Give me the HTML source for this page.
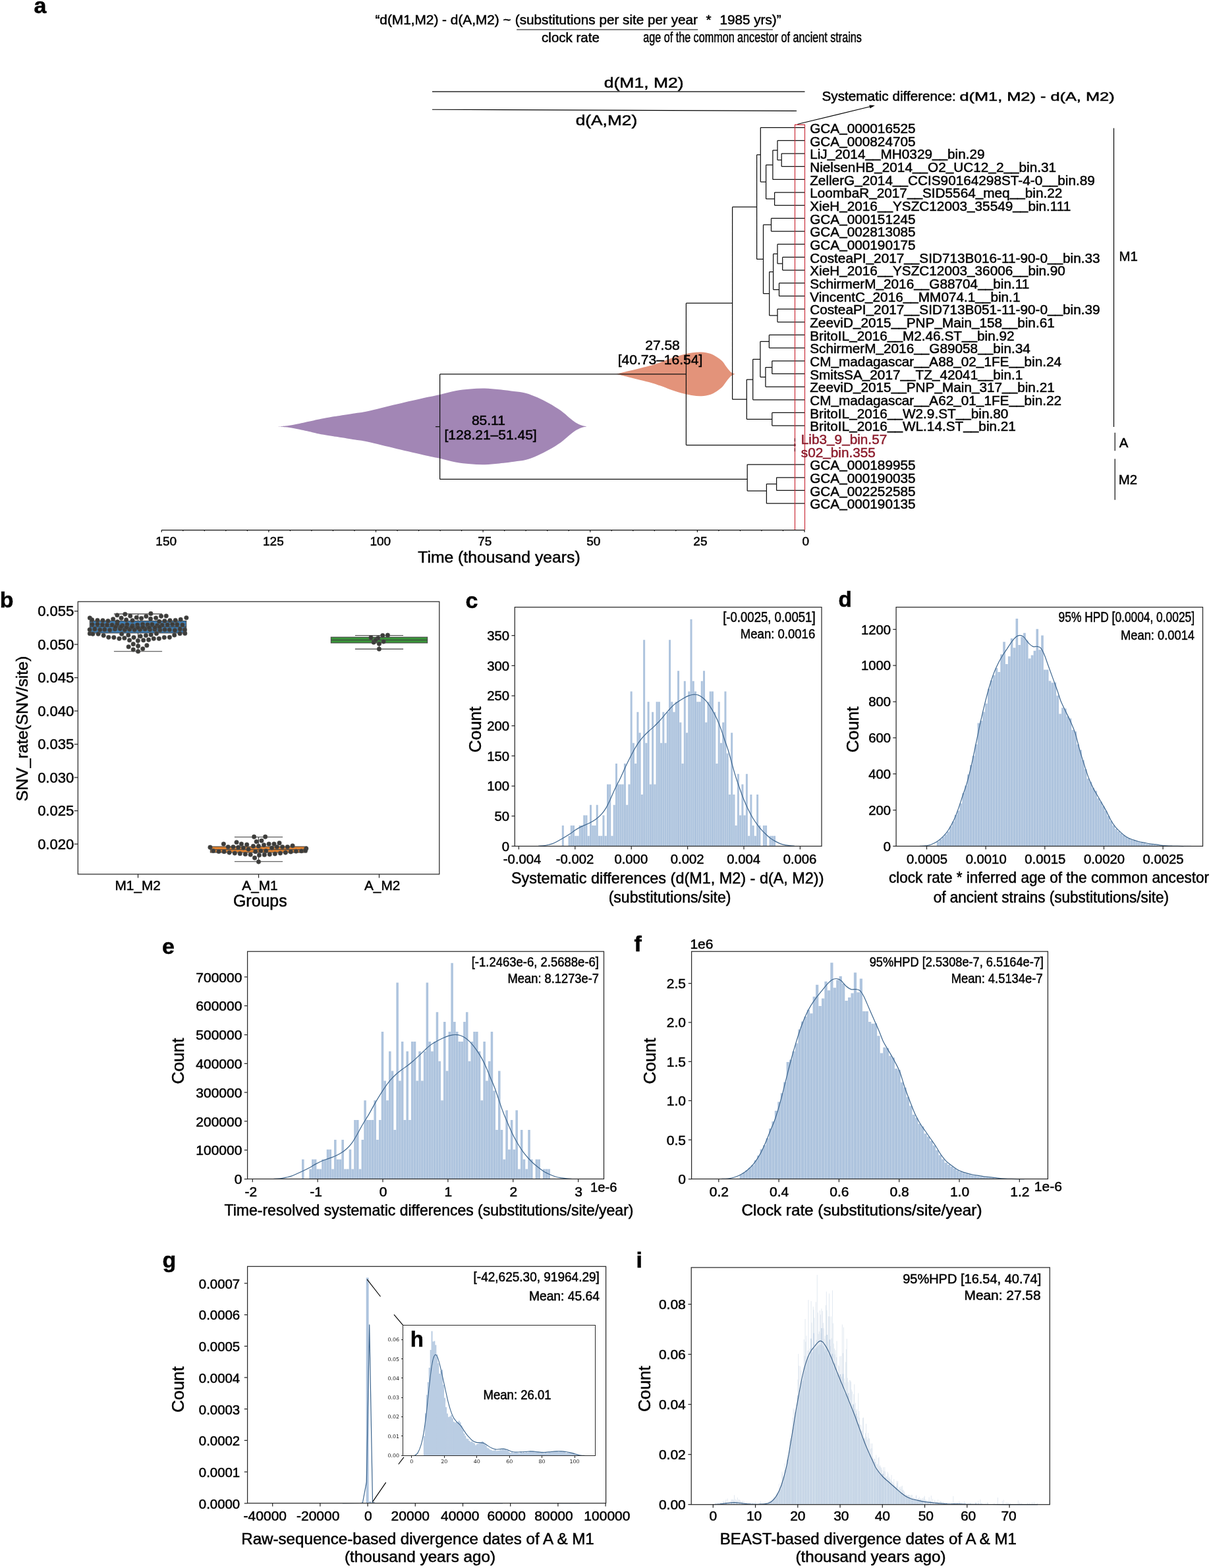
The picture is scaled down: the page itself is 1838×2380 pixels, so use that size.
<!DOCTYPE html>
<html lang="en"><head><meta charset="utf-8"><title>Figure</title>
<style>
html,body{margin:0;padding:0;background:#fff}
body{width:1838px;height:2380px;overflow:hidden}
svg{display:block;font-family:"Liberation Sans",sans-serif}
text{white-space:pre;stroke:#000;stroke-width:0.5px;paint-order:stroke}
</style></head><body>
<svg width="1838" height="2380" viewBox="0 0 1838 2380">
<rect width="1838" height="2380" fill="#fff"/>
<text transform="translate(51.5 19.6)" font-size="34" font-weight="bold">a</text>
<text transform="translate(569.4 37) scale(1.005 1)" font-size="20.7">“d(M1,M2) - d(A,M2) ~</text>
<text transform="translate(781.8 37)" font-size="20.7">(substitutions per site per year</text>
<text transform="translate(1071.5 37)" font-size="20.7">*</text>
<text transform="translate(1092.4 37)" font-size="20.7">1985 yrs)”</text>
<path d="M784.2 45L1059.2 45" stroke="#000" stroke-width="1.15" fill="none"/>
<path d="M1091.4 45L1173 45" stroke="#000" stroke-width="1.15" fill="none"/>
<text transform="translate(822.1 64)" font-size="20.5">clock rate</text>
<text transform="translate(976.2 64.3) scale(0.742 1)" font-size="21.8">age of the common ancestor of ancient strains</text>
<path d="M656 139.1L1221.5 139.1" stroke="#000" stroke-width="1.15" fill="none"/>
<path d="M656 166.2L1209 168.3" stroke="#000" stroke-width="1.15" fill="none"/>
<text transform="translate(916.7 132.5) scale(1.207 1)" font-size="22">d(M1, M2)</text>
<text transform="translate(873.7 189.5) scale(1.195 1)" font-size="22">d(A,M2)</text>
<text transform="translate(1247.5 153) scale(1.005 1)" font-size="20.6">Systematic difference:</text>
<text transform="translate(1456.4 153) scale(1.349 1)" font-size="18.8">d(M1, M2) - d(A, M2)</text>
<path d="M1210.4 188.5L1324 161" stroke="#000" stroke-width="1.1" fill="none"/>
<path d="M1327.8 160.1L1319.3 159.6L1320.6 164.6Z" stroke="none" stroke-width="1" fill="#000"/>
<path d="M422.24 647.38C424.09 647.23 429.27 646.97 433.35 646.49C437.43 646.01 440.76 645.6 446.69 644.49C452.62 643.38 461.51 641.42 468.92 639.82C476.33 638.23 480.03 636.93 491.15 634.93C502.26 632.93 524.49 629.6 535.6 627.82C546.72 626.04 546.72 626.64 557.83 624.26C568.95 621.89 587.47 617.08 602.29 613.59C617.11 610.11 635.86 605.81 646.75 603.37C657.64 600.92 660.24 600.63 667.65 598.92C675.05 597.22 683.58 594.55 691.21 593.14C698.84 591.74 706.03 591.07 713.44 590.48C720.85 589.88 728.26 589.44 735.67 589.59C743.08 589.73 750.49 590.62 757.9 591.36C765.31 592.11 773.46 593.14 780.12 594.03C786.79 594.92 791.98 595.14 797.91 596.7C803.84 598.26 809.76 600.78 815.69 603.37C821.62 605.96 827.55 608.93 833.47 612.26C839.4 615.59 846.07 619.67 851.26 623.37C856.44 627.08 860.89 631.53 864.6 634.49C868.3 637.45 870.52 639.31 873.49 641.16C876.45 643.01 879.56 644.57 882.38 645.6C885.19 646.64 889.05 647.09 890.38 647.38L890.38 647.38C889.05 647.68 885.19 648.12 882.38 649.16C879.56 650.2 876.45 651.75 873.49 653.61C870.52 655.46 868.3 657.31 864.6 660.28C860.89 663.24 856.44 667.68 851.26 671.39C846.07 675.09 839.4 679.17 833.47 682.5C827.55 685.84 821.62 688.8 815.69 691.4C809.76 693.99 803.84 696.51 797.91 698.06C791.98 699.62 786.79 699.84 780.12 700.73C773.46 701.62 765.31 702.66 757.9 703.4C750.49 704.14 743.08 705.03 735.67 705.18C728.26 705.33 720.85 704.88 713.44 704.29C706.03 703.7 698.84 703.03 691.21 701.62C683.58 700.21 675.05 697.55 667.65 695.84C660.24 694.14 657.64 693.84 646.75 691.4C635.86 688.95 617.11 684.65 602.29 681.17C587.47 677.69 568.95 672.87 557.83 670.5C546.72 668.13 546.72 668.72 535.6 666.94C524.49 665.17 502.26 661.83 491.15 659.83C480.03 657.83 476.33 656.53 468.92 654.94C461.51 653.35 452.62 651.38 446.69 650.27C440.76 649.16 437.43 648.75 433.35 648.27C429.27 647.79 424.09 647.53 422.24 647.38Z" stroke="none" stroke-width="1" fill="#a286b5"/>
<path d="M935.73 567.8C938.69 567.06 947.58 564.84 953.51 563.36C959.44 561.87 965.37 560.39 971.3 558.91C977.22 557.43 983.89 555.95 989.08 554.46C994.27 552.98 997.23 551.87 1002.42 550.02C1007.6 548.17 1014.27 545.35 1020.2 543.35C1026.13 541.35 1032.8 539.35 1037.98 538.01C1043.17 536.68 1046.87 535.94 1051.32 535.35C1055.77 534.75 1060.21 534.24 1064.66 534.46C1069.1 534.68 1074.29 535.57 1077.99 536.68C1081.7 537.79 1083.92 539.27 1086.89 541.13C1089.85 542.98 1093.18 545.2 1095.78 547.8C1098.37 550.39 1100.22 553.87 1102.45 556.69C1104.67 559.5 1106.89 562.84 1109.12 564.69C1111.34 566.54 1114.67 567.28 1115.78 567.8L1115.78 567.8C1114.67 568.32 1111.34 569.06 1109.12 570.91C1106.89 572.77 1104.67 576.1 1102.45 578.92C1100.22 581.73 1098.37 585.21 1095.78 587.81C1093.18 590.4 1089.85 592.62 1086.89 594.48C1083.92 596.33 1081.7 597.81 1077.99 598.92C1074.29 600.03 1069.1 600.92 1064.66 601.15C1060.21 601.37 1055.77 600.85 1051.32 600.26C1046.87 599.66 1043.17 598.92 1037.98 597.59C1032.8 596.26 1026.13 594.25 1020.2 592.25C1014.27 590.25 1007.6 587.44 1002.42 585.59C997.23 583.73 994.27 582.62 989.08 581.14C983.89 579.66 977.22 578.18 971.3 576.69C965.37 575.21 959.44 573.73 953.51 572.25C947.58 570.77 938.69 568.54 935.73 567.8Z" stroke="none" stroke-width="1" fill="#e3937a"/>
<path d="M1186.2 233.04H1221.4M1186.2 252.71H1221.4M1186.2 233.04V252.71M1180 213.37H1221.4M1180 242.88H1186.2M1180 213.37V242.88M1172.9 228.12H1180M1172.9 272.38H1221.4M1172.9 228.12V272.38M1175.6 292.05H1221.4M1175.6 311.72H1221.4M1175.6 292.05V311.72M1162.6 250.25H1172.9M1162.6 301.88H1175.6M1162.6 250.25V301.88M1154.3 193.7H1221.4M1154.3 276.07H1162.6M1154.3 193.7V276.07M1170.5 331.39H1221.4M1170.5 351.06H1221.4M1170.5 331.39V351.06M1187.7 390.4H1221.4M1187.7 410.07H1221.4M1187.7 390.4V410.07M1180 370.73H1221.4M1180 400.24H1187.7M1180 370.73V400.24M1182.5 429.74H1221.4M1182.5 449.41H1221.4M1182.5 429.74V449.41M1173.6 385.48H1180M1173.6 439.58H1182.5M1173.6 385.48V439.58M1180 469.08H1221.4M1180 488.75H1221.4M1180 469.08V488.75M1167.7 412.53H1173.6M1167.7 478.91H1180M1167.7 412.53V478.91M1158.5 341.23H1170.5M1158.5 445.72H1167.7M1158.5 341.23V445.72M1148.6 234.88H1154.3M1148.6 393.47H1158.5M1148.6 234.88V393.47M1167.4 508.42H1221.4M1167.4 528.09H1221.4M1167.4 508.42V528.09M1171.8 547.76H1221.4M1171.8 567.43H1221.4M1171.8 547.76V567.43M1161.9 557.6H1171.8M1161.9 587.1H1221.4M1161.9 557.6V587.1M1153.9 518.25H1167.4M1153.9 572.35H1161.9M1153.9 518.25V572.35M1142.7 545.3H1153.9M1142.7 606.77H1221.4M1142.7 545.3V606.77M1171.8 626.44H1221.4M1171.8 646.11H1221.4M1171.8 626.44V646.11M1133.3 576.04H1142.7M1133.3 636.28H1171.8M1133.3 576.04V636.28M1111.6 314.18H1148.6M1111.6 606.16H1133.3M1111.6 314.18V606.16M1041.4 460.17H1111.6M1041.4 675.62H1206.3M1041.4 460.17V675.62M1178.6 724.79H1221.4M1178.6 744.46H1221.4M1178.6 724.79V744.46M1163.4 734.62H1178.6M1163.4 764.13H1221.4M1163.4 734.62V764.13M1134.2 705.12H1221.4M1134.2 745H1163.4M1134.2 705.12V745M667.6 567.89H1041.4M667.6 727.4H1134.2M667.6 567.89V727.4M661 647.65H667.6" stroke="#111" stroke-width="1.25" fill="none"/>
<path d="M1206.5 804.6V189.4H1221.5V804.6" stroke="#c92a36" stroke-width="1.15" fill="none"/>
<path d="M1206.4 665.28L1206.4 686.45" stroke="#7d1a26" stroke-width="1.5" fill="none" stroke-dasharray="5 2.5"/>
<circle cx="1206.3" cy="675.62" r="1.5" fill="#7d1a26"/>
<g font-size="20.75">
<text x="1229.2" y="202">GCA<tspan dy="-2.1">_</tspan><tspan dy="2.1">000016525</tspan></text>
<text x="1229.2" y="221.67">GCA<tspan dy="-2.1">_</tspan><tspan dy="2.1">000824705</tspan></text>
<text x="1229.2" y="241.34">LiJ<tspan dy="-2.1">_</tspan><tspan dy="2.1">2014</tspan><tspan dy="-2.1">__</tspan><tspan dy="2.1">MH0329</tspan><tspan dy="-2.1">__</tspan><tspan dy="2.1">bin.29</tspan></text>
<text x="1229.2" y="261.01">NielsenHB<tspan dy="-2.1">_</tspan><tspan dy="2.1">2014</tspan><tspan dy="-2.1">__</tspan><tspan dy="2.1">O2</tspan><tspan dy="-2.1">_</tspan><tspan dy="2.1">UC12</tspan><tspan dy="-2.1">_</tspan><tspan dy="2.1">2</tspan><tspan dy="-2.1">__</tspan><tspan dy="2.1">bin.31</tspan></text>
<text x="1229.2" y="280.68">ZellerG<tspan dy="-2.1">_</tspan><tspan dy="2.1">2014</tspan><tspan dy="-2.1">__</tspan><tspan dy="2.1">CCIS90164298ST-4-0</tspan><tspan dy="-2.1">__</tspan><tspan dy="2.1">bin.89</tspan></text>
<text x="1229.2" y="300.35">LoombaR<tspan dy="-2.1">_</tspan><tspan dy="2.1">2017</tspan><tspan dy="-2.1">__</tspan><tspan dy="2.1">SID5564</tspan><tspan dy="-2.1">_</tspan><tspan dy="2.1">meq</tspan><tspan dy="-2.1">__</tspan><tspan dy="2.1">bin.22</tspan></text>
<text x="1229.2" y="320.02">XieH<tspan dy="-2.1">_</tspan><tspan dy="2.1">2016</tspan><tspan dy="-2.1">__</tspan><tspan dy="2.1">YSZC12003</tspan><tspan dy="-2.1">_</tspan><tspan dy="2.1">35549</tspan><tspan dy="-2.1">__</tspan><tspan dy="2.1">bin.111</tspan></text>
<text x="1229.2" y="339.69">GCA<tspan dy="-2.1">_</tspan><tspan dy="2.1">000151245</tspan></text>
<text x="1229.2" y="359.36">GCA<tspan dy="-2.1">_</tspan><tspan dy="2.1">002813085</tspan></text>
<text x="1229.2" y="379.03">GCA<tspan dy="-2.1">_</tspan><tspan dy="2.1">000190175</tspan></text>
<text x="1229.2" y="398.7">CosteaPI<tspan dy="-2.1">_</tspan><tspan dy="2.1">2017</tspan><tspan dy="-2.1">__</tspan><tspan dy="2.1">SID713B016-11-90-0</tspan><tspan dy="-2.1">__</tspan><tspan dy="2.1">bin.33</tspan></text>
<text x="1229.2" y="418.37">XieH<tspan dy="-2.1">_</tspan><tspan dy="2.1">2016</tspan><tspan dy="-2.1">__</tspan><tspan dy="2.1">YSZC12003</tspan><tspan dy="-2.1">_</tspan><tspan dy="2.1">36006</tspan><tspan dy="-2.1">__</tspan><tspan dy="2.1">bin.90</tspan></text>
<text x="1229.2" y="438.04">SchirmerM<tspan dy="-2.1">_</tspan><tspan dy="2.1">2016</tspan><tspan dy="-2.1">__</tspan><tspan dy="2.1">G88704</tspan><tspan dy="-2.1">__</tspan><tspan dy="2.1">bin.11</tspan></text>
<text x="1229.2" y="457.71">VincentC<tspan dy="-2.1">_</tspan><tspan dy="2.1">2016</tspan><tspan dy="-2.1">__</tspan><tspan dy="2.1">MM074.1</tspan><tspan dy="-2.1">__</tspan><tspan dy="2.1">bin.1</tspan></text>
<text x="1229.2" y="477.38">CosteaPI<tspan dy="-2.1">_</tspan><tspan dy="2.1">2017</tspan><tspan dy="-2.1">__</tspan><tspan dy="2.1">SID713B051-11-90-0</tspan><tspan dy="-2.1">__</tspan><tspan dy="2.1">bin.39</tspan></text>
<text x="1229.2" y="497.05">ZeeviD<tspan dy="-2.1">_</tspan><tspan dy="2.1">2015</tspan><tspan dy="-2.1">__</tspan><tspan dy="2.1">PNP</tspan><tspan dy="-2.1">_</tspan><tspan dy="2.1">Main</tspan><tspan dy="-2.1">_</tspan><tspan dy="2.1">158</tspan><tspan dy="-2.1">__</tspan><tspan dy="2.1">bin.61</tspan></text>
<text x="1229.2" y="516.72">BritoIL<tspan dy="-2.1">_</tspan><tspan dy="2.1">2016</tspan><tspan dy="-2.1">__</tspan><tspan dy="2.1">M2.46.ST</tspan><tspan dy="-2.1">__</tspan><tspan dy="2.1">bin.92</tspan></text>
<text x="1229.2" y="536.39">SchirmerM<tspan dy="-2.1">_</tspan><tspan dy="2.1">2016</tspan><tspan dy="-2.1">__</tspan><tspan dy="2.1">G89058</tspan><tspan dy="-2.1">__</tspan><tspan dy="2.1">bin.34</tspan></text>
<text x="1229.2" y="556.06">CM<tspan dy="-2.1">_</tspan><tspan dy="2.1">madagascar</tspan><tspan dy="-2.1">__</tspan><tspan dy="2.1">A88</tspan><tspan dy="-2.1">_</tspan><tspan dy="2.1">02</tspan><tspan dy="-2.1">_</tspan><tspan dy="2.1">1FE</tspan><tspan dy="-2.1">__</tspan><tspan dy="2.1">bin.24</tspan></text>
<text x="1229.2" y="575.73">SmitsSA<tspan dy="-2.1">_</tspan><tspan dy="2.1">2017</tspan><tspan dy="-2.1">__</tspan><tspan dy="2.1">TZ</tspan><tspan dy="-2.1">_</tspan><tspan dy="2.1">42041</tspan><tspan dy="-2.1">__</tspan><tspan dy="2.1">bin.1</tspan></text>
<text x="1229.2" y="595.4">ZeeviD<tspan dy="-2.1">_</tspan><tspan dy="2.1">2015</tspan><tspan dy="-2.1">__</tspan><tspan dy="2.1">PNP</tspan><tspan dy="-2.1">_</tspan><tspan dy="2.1">Main</tspan><tspan dy="-2.1">_</tspan><tspan dy="2.1">317</tspan><tspan dy="-2.1">__</tspan><tspan dy="2.1">bin.21</tspan></text>
<text x="1229.2" y="615.07">CM<tspan dy="-2.1">_</tspan><tspan dy="2.1">madagascar</tspan><tspan dy="-2.1">__</tspan><tspan dy="2.1">A62</tspan><tspan dy="-2.1">_</tspan><tspan dy="2.1">01</tspan><tspan dy="-2.1">_</tspan><tspan dy="2.1">1FE</tspan><tspan dy="-2.1">__</tspan><tspan dy="2.1">bin.22</tspan></text>
<text x="1229.2" y="634.74">BritoIL<tspan dy="-2.1">_</tspan><tspan dy="2.1">2016</tspan><tspan dy="-2.1">__</tspan><tspan dy="2.1">W2.9.ST</tspan><tspan dy="-2.1">__</tspan><tspan dy="2.1">bin.80</tspan></text>
<text x="1229.2" y="654.41">BritoIL<tspan dy="-2.1">_</tspan><tspan dy="2.1">2016</tspan><tspan dy="-2.1">__</tspan><tspan dy="2.1">WL.14.ST</tspan><tspan dy="-2.1">__</tspan><tspan dy="2.1">bin.21</tspan></text>
<text x="1215.8" y="674.38" fill="#8c1c2c" style="stroke:#8c1c2c">Lib3<tspan dy="-2.1">_</tspan><tspan dy="2.1">9</tspan><tspan dy="-2.1">_</tspan><tspan dy="2.1">bin.57</tspan></text>
<text x="1215.8" y="694.05" fill="#8c1c2c" style="stroke:#8c1c2c">s02<tspan dy="-2.1">_</tspan><tspan dy="2.1">bin.355</tspan></text>
<text x="1229.2" y="713.42">GCA<tspan dy="-2.1">_</tspan><tspan dy="2.1">000189955</tspan></text>
<text x="1229.2" y="733.09">GCA<tspan dy="-2.1">_</tspan><tspan dy="2.1">000190035</tspan></text>
<text x="1229.2" y="752.76">GCA<tspan dy="-2.1">_</tspan><tspan dy="2.1">002252585</tspan></text>
<text x="1229.2" y="772.43">GCA<tspan dy="-2.1">_</tspan><tspan dy="2.1">000190135</tspan></text>
</g>
<path d="M1690.5 194.4L1690.5 648" stroke="#000" stroke-width="1.15" fill="none"/>
<path d="M1692.2 656.7L1692.2 684.3" stroke="#000" stroke-width="1.15" fill="none"/>
<path d="M1692.2 696.4L1692.2 758.8" stroke="#000" stroke-width="1.15" fill="none"/>
<text transform="translate(1698.4 395.8)" font-size="20.4">M1</text>
<text transform="translate(1698.8 678.8)" font-size="20.4">A</text>
<text transform="translate(1697.8 735.2)" font-size="20.4">M2</text>
<text transform="translate(1005.5 530.8)" font-size="21" text-anchor="middle">27.58</text>
<text transform="translate(1002 552.8)" font-size="21" text-anchor="middle">[40.73–16.54]</text>
<text transform="translate(741.4 644.6)" font-size="21" text-anchor="middle">85.11</text>
<text transform="translate(744.6 667.1)" font-size="21" text-anchor="middle">[128.21–51.45]</text>
<path d="M245.25 804.6H1221M1221 804.6v3.2M1188.47 804.6v1.6M1155.95 804.6v1.6M1123.42 804.6v1.6M1090.9 804.6v1.6M1058.38 804.6v3.2M1025.85 804.6v1.6M993.33 804.6v1.6M960.8 804.6v1.6M928.27 804.6v1.6M895.75 804.6v3.2M863.23 804.6v1.6M830.7 804.6v1.6M798.17 804.6v1.6M765.65 804.6v1.6M733.12 804.6v3.2M700.6 804.6v1.6M668.08 804.6v1.6M635.55 804.6v1.6M603.02 804.6v1.6M570.5 804.6v3.2M537.98 804.6v1.6M505.45 804.6v1.6M472.93 804.6v1.6M440.4 804.6v1.6M407.88 804.6v3.2M375.35 804.6v1.6M342.83 804.6v1.6M310.3 804.6v1.6M277.77 804.6v1.6M245.25 804.6v3.2" stroke="#111" stroke-width="1.2" fill="none"/>
<text transform="translate(252.2 828)" font-size="19" text-anchor="middle">150</text>
<text transform="translate(414.9 828)" font-size="19" text-anchor="middle">125</text>
<text transform="translate(577.3 828)" font-size="19" text-anchor="middle">100</text>
<text transform="translate(735.7 828)" font-size="19" text-anchor="middle">75</text>
<text transform="translate(900.8 828)" font-size="19" text-anchor="middle">50</text>
<text transform="translate(1062.9 828)" font-size="19" text-anchor="middle">25</text>
<text transform="translate(1222.7 828)" font-size="19" text-anchor="middle">0</text>
<text transform="translate(634.2 853.8) scale(1.006 1)" font-size="24.6">Time (thousand years)</text>
<path d="M209.5 931.9V942.5M209.5 960.9V988.7M172.9 931.9H246.1M172.9 988.7H246.1" stroke="#3f3f3f" stroke-width="1.1" fill="none"/>
<rect x="136.3" y="942.5" width="146.4" height="18.4" fill="#3a7cb5" stroke="#3f3f3f" stroke-width="1"/>
<path d="M136.3 951.5L282.7 951.5" stroke="#3f3f3f" stroke-width="1" fill="none"/>
<path d="M392.5 1270.5V1285M392.5 1294V1307.7M355.9 1270.5H429.1M355.9 1307.7H429.1" stroke="#3f3f3f" stroke-width="1.1" fill="none"/>
<rect x="319.3" y="1285" width="146.4" height="9" fill="#e1822f" stroke="#3f3f3f" stroke-width="1"/>
<path d="M319.3 1289.6L465.7 1289.6" stroke="#3f3f3f" stroke-width="1" fill="none"/>
<path d="M575.5 964.5V967.1M575.5 975.9V985.1M538.9 964.5H612.1M538.9 985.1H612.1" stroke="#3f3f3f" stroke-width="1.1" fill="none"/>
<rect x="502.3" y="967.1" width="146.4" height="8.8" fill="#3a923a" stroke="#3f3f3f" stroke-width="1"/>
<path d="M502.3 971.5L648.7 971.5" stroke="#3f3f3f" stroke-width="1" fill="none"/>
<g fill="#3c3c3a" stroke="#5a5a58" stroke-width="0.5">
<circle cx="177.81" cy="933.79" r="3.3"/>
<circle cx="189.79" cy="932.25" r="3.3"/>
<circle cx="197.73" cy="934.97" r="3.3"/>
<circle cx="207.21" cy="937.34" r="3.3"/>
<circle cx="214.56" cy="938.53" r="3.3"/>
<circle cx="221.8" cy="935.57" r="3.3"/>
<circle cx="228.91" cy="931.42" r="3.3"/>
<circle cx="236.62" cy="937.94" r="3.3"/>
<circle cx="244.56" cy="935.33" r="3.3"/>
<circle cx="252.26" cy="934.97" r="3.3"/>
<circle cx="184.1" cy="938.17" r="3.3"/>
<circle cx="136.32" cy="937.94" r="3.3"/>
<circle cx="139.64" cy="940.9" r="3.3"/>
<circle cx="147.94" cy="941.49" r="3.3"/>
<circle cx="156" cy="941.73" r="3.3"/>
<circle cx="163.94" cy="942.44" r="3.3"/>
<circle cx="171.65" cy="939.72" r="3.3"/>
<circle cx="178.17" cy="943.86" r="3.3"/>
<circle cx="191.56" cy="940.9" r="3.3"/>
<circle cx="201.05" cy="941.73" r="3.3"/>
<circle cx="228.55" cy="939.36" r="3.3"/>
<circle cx="241.59" cy="943.27" r="3.3"/>
<circle cx="249.89" cy="942.44" r="3.3"/>
<circle cx="257.95" cy="941.73" r="3.3"/>
<circle cx="266.25" cy="941.49" r="3.3"/>
<circle cx="274.2" cy="940.31" r="3.3"/>
<circle cx="282.85" cy="937.7" r="3.3"/>
<circle cx="136.32" cy="961.65" r="3.3"/>
<circle cx="140.82" cy="962.24" r="3.3"/>
<circle cx="149.12" cy="962.24" r="3.3"/>
<circle cx="157.18" cy="964.61" r="3.3"/>
<circle cx="164.77" cy="967.34" r="3.3"/>
<circle cx="172.83" cy="967.58" r="3.3"/>
<circle cx="180.9" cy="969.35" r="3.3"/>
<circle cx="188.84" cy="968.52" r="3.3"/>
<circle cx="196.54" cy="971.72" r="3.3"/>
<circle cx="203.06" cy="967.58" r="3.3"/>
<circle cx="209.35" cy="972.55" r="3.3"/>
<circle cx="217.65" cy="971.72" r="3.3"/>
<circle cx="225.59" cy="971.13" r="3.3"/>
<circle cx="233.3" cy="969.35" r="3.3"/>
<circle cx="241.36" cy="969.35" r="3.3"/>
<circle cx="249.3" cy="967.58" r="3.3"/>
<circle cx="257.36" cy="967.34" r="3.3"/>
<circle cx="264.71" cy="964.02" r="3.3"/>
<circle cx="273.01" cy="961.65" r="3.3"/>
<circle cx="280.72" cy="961.41" r="3.3"/>
<circle cx="213.14" cy="965.8" r="3.3"/>
<circle cx="221.44" cy="964.61" r="3.3"/>
<circle cx="229.15" cy="963.43" r="3.3"/>
<circle cx="237.45" cy="961.65" r="3.3"/>
<circle cx="194.77" cy="964.02" r="3.3"/>
<circle cx="184.69" cy="962.24" r="3.3"/>
<circle cx="202.23" cy="977.65" r="3.3"/>
<circle cx="209.59" cy="980.62" r="3.3"/>
<circle cx="222.86" cy="979.67" r="3.3"/>
<circle cx="195.12" cy="981.8" r="3.3"/>
<circle cx="216.7" cy="984.77" r="3.3"/>
<circle cx="202.23" cy="985.95" r="3.3"/>
<circle cx="209.59" cy="988.68" r="3.3"/>
<circle cx="140.06" cy="947.78" r="3.3"/>
<circle cx="147.96" cy="947.59" r="3.3"/>
<circle cx="155.44" cy="948.29" r="3.3"/>
<circle cx="162.57" cy="948.62" r="3.3"/>
<circle cx="170.14" cy="948.45" r="3.3"/>
<circle cx="177.76" cy="947.64" r="3.3"/>
<circle cx="185.68" cy="949.38" r="3.3"/>
<circle cx="192.99" cy="947.95" r="3.3"/>
<circle cx="201.05" cy="949.67" r="3.3"/>
<circle cx="208.59" cy="948.36" r="3.3"/>
<circle cx="216.56" cy="947.53" r="3.3"/>
<circle cx="224.03" cy="948.11" r="3.3"/>
<circle cx="230.94" cy="947.7" r="3.3"/>
<circle cx="238.69" cy="949.36" r="3.3"/>
<circle cx="246.15" cy="948.8" r="3.3"/>
<circle cx="254.17" cy="948.3" r="3.3"/>
<circle cx="261.68" cy="947.57" r="3.3"/>
<circle cx="268.8" cy="947.91" r="3.3"/>
<circle cx="276.98" cy="948.44" r="3.3"/>
<circle cx="136.14" cy="955.69" r="3.3"/>
<circle cx="143.86" cy="955.01" r="3.3"/>
<circle cx="151.77" cy="955.95" r="3.3"/>
<circle cx="158.84" cy="955.66" r="3.3"/>
<circle cx="166.69" cy="956.37" r="3.3"/>
<circle cx="174.47" cy="954.98" r="3.3"/>
<circle cx="182.3" cy="954.58" r="3.3"/>
<circle cx="189.35" cy="956.09" r="3.3"/>
<circle cx="196.69" cy="955.46" r="3.3"/>
<circle cx="204.17" cy="955.88" r="3.3"/>
<circle cx="212.44" cy="955.66" r="3.3"/>
<circle cx="220.14" cy="955.04" r="3.3"/>
<circle cx="227.55" cy="955.71" r="3.3"/>
<circle cx="235.03" cy="955.38" r="3.3"/>
<circle cx="242.87" cy="956.54" r="3.3"/>
<circle cx="250.11" cy="955.87" r="3.3"/>
<circle cx="257.3" cy="955.96" r="3.3"/>
<circle cx="265.44" cy="956.65" r="3.3"/>
<circle cx="273.2" cy="954.97" r="3.3"/>
<circle cx="280.37" cy="955.88" r="3.3"/>
<circle cx="175.26" cy="951.85" r="3.3"/>
<circle cx="183.9" cy="951.2" r="3.3"/>
<circle cx="191.94" cy="952.44" r="3.3"/>
<circle cx="200.41" cy="951.45" r="3.3"/>
<circle cx="209.33" cy="952.63" r="3.3"/>
<circle cx="216.89" cy="951.83" r="3.3"/>
<circle cx="226.3" cy="952.65" r="3.3"/>
<circle cx="235.24" cy="952.62" r="3.3"/>
<circle cx="242.25" cy="951.77" r="3.3"/>
<circle cx="385.6" cy="1270.15" r="3.3"/>
<circle cx="402.67" cy="1270.15" r="3.3"/>
<circle cx="389.15" cy="1277.5" r="3.3"/>
<circle cx="396.98" cy="1276.08" r="3.3"/>
<circle cx="339.36" cy="1281.06" r="3.3"/>
<circle cx="359.04" cy="1278.45" r="3.3"/>
<circle cx="366.39" cy="1281.06" r="3.3"/>
<circle cx="374.69" cy="1282.01" r="3.3"/>
<circle cx="384.41" cy="1284.38" r="3.3"/>
<circle cx="392.47" cy="1284.38" r="3.3"/>
<circle cx="400.53" cy="1282.6" r="3.3"/>
<circle cx="408.12" cy="1281.06" r="3.3"/>
<circle cx="415.95" cy="1281.06" r="3.3"/>
<circle cx="424.01" cy="1279.64" r="3.3"/>
<circle cx="318.97" cy="1286.16" r="3.3"/>
<circle cx="346.24" cy="1285.57" r="3.3"/>
<circle cx="353.94" cy="1285.57" r="3.3"/>
<circle cx="361.65" cy="1286.16" r="3.3"/>
<circle cx="369.35" cy="1286.99" r="3.3"/>
<circle cx="377.06" cy="1289.12" r="3.3"/>
<circle cx="412.63" cy="1286.99" r="3.3"/>
<circle cx="420.33" cy="1285.57" r="3.3"/>
<circle cx="428.63" cy="1285.57" r="3.3"/>
<circle cx="436.34" cy="1285.57" r="3.3"/>
<circle cx="444.04" cy="1283.79" r="3.3"/>
<circle cx="464.79" cy="1287.94" r="3.3"/>
<circle cx="323.71" cy="1291.49" r="3.3"/>
<circle cx="332.01" cy="1292.44" r="3.3"/>
<circle cx="340.07" cy="1292.68" r="3.3"/>
<circle cx="348.01" cy="1294.1" r="3.3"/>
<circle cx="356.31" cy="1295.05" r="3.3"/>
<circle cx="364.26" cy="1295.64" r="3.3"/>
<circle cx="372.32" cy="1296.47" r="3.3"/>
<circle cx="380.14" cy="1297.18" r="3.3"/>
<circle cx="387.73" cy="1292.68" r="3.3"/>
<circle cx="395.79" cy="1291.49" r="3.3"/>
<circle cx="403.73" cy="1291.49" r="3.3"/>
<circle cx="393.42" cy="1298.01" r="3.3"/>
<circle cx="401.36" cy="1297.42" r="3.3"/>
<circle cx="409.31" cy="1296.83" r="3.3"/>
<circle cx="417.37" cy="1296" r="3.3"/>
<circle cx="425.43" cy="1295.05" r="3.3"/>
<circle cx="433.37" cy="1294.1" r="3.3"/>
<circle cx="441.32" cy="1292.92" r="3.3"/>
<circle cx="449.38" cy="1292.09" r="3.3"/>
<circle cx="457.44" cy="1291.73" r="3.3"/>
<circle cx="463.6" cy="1290.9" r="3.3"/>
<circle cx="386.54" cy="1302.16" r="3.3"/>
<circle cx="392.47" cy="1308.09" r="3.3"/>
<circle cx="562.99" cy="967.7" r="3.3"/>
<circle cx="573.66" cy="968.53" r="3.3"/>
<circle cx="580.77" cy="964.62" r="3.3"/>
<circle cx="588.48" cy="964.14" r="3.3"/>
<circle cx="567.14" cy="975.05" r="3.3"/>
<circle cx="575.44" cy="977.18" r="3.3"/>
<circle cx="582.19" cy="973.86" r="3.3"/>
<circle cx="575.44" cy="985.13" r="3.3"/>
<circle cx="570.1" cy="971.49" r="3.3"/>
</g>
<rect x="118.3" y="913.2" width="548.5" height="413.7" fill="none" stroke="#2a2a2a" stroke-width="1.25"/>
<path d="M118.3 1281.2h-5.5M118.3 1230.7h-5.5M118.3 1180.2h-5.5M118.3 1129.7h-5.5M118.3 1079.2h-5.5M118.3 1028.7h-5.5M118.3 978.2h-5.5M118.3 927.7h-5.5M209.5 1326.9v5.5M392.5 1326.9v5.5M575.5 1326.9v5.5" stroke="#2a2a2a" stroke-width="1.25" fill="none"/>
<text transform="translate(112.2 1288.9)" font-size="22" text-anchor="end">0.020</text>
<text transform="translate(112.2 1238.4)" font-size="22" text-anchor="end">0.025</text>
<text transform="translate(112.2 1187.9)" font-size="22" text-anchor="end">0.030</text>
<text transform="translate(112.2 1137.4)" font-size="22" text-anchor="end">0.035</text>
<text transform="translate(112.2 1086.9)" font-size="22" text-anchor="end">0.040</text>
<text transform="translate(112.2 1036.4)" font-size="22" text-anchor="end">0.045</text>
<text transform="translate(112.2 985.9)" font-size="22" text-anchor="end">0.050</text>
<text transform="translate(112.2 935.4)" font-size="22" text-anchor="end">0.055</text>
<text transform="translate(209.2 1350.6)" font-size="20.8" text-anchor="middle">M1_M2</text>
<text transform="translate(394.5 1350.6)" font-size="20.8" text-anchor="middle">A_M1</text>
<text transform="translate(580.1 1350.6)" font-size="20.8" text-anchor="middle">A_M2</text>
<text transform="translate(394.8 1375.8)" font-size="24.9" text-anchor="middle">Groups</text>
<text transform="translate(41.8 1106) rotate(-90)" font-size="24.8" text-anchor="middle">SNV_rate(SNV/site)</text>
<text transform="translate(-0.3 921.5)" font-size="34" font-weight="bold">b</text>
<path d="M852.82 1284.4h3v-31.32h-3zM862.56 1284.4h3v-15.66h-3zM865.8 1284.4h3v-31.32h-3zM869.05 1284.4h3v-31.32h-3zM872.29 1284.4h3v-15.66h-3zM875.54 1284.4h3v-15.66h-3zM878.78 1284.4h3v-31.32h-3zM882.03 1284.4h3v-31.32h-3zM885.27 1284.4h3v-46.98h-3zM888.52 1284.4h3v-46.98h-3zM891.76 1284.4h3v-15.66h-3zM895 1284.4h3v-62.64h-3zM898.25 1284.4h3v-31.32h-3zM901.5 1284.4h3v-31.32h-3zM904.74 1284.4h3v-62.64h-3zM907.99 1284.4h3v-15.66h-3zM911.23 1284.4h3v-15.66h-3zM914.48 1284.4h3v-46.98h-3zM917.72 1284.4h3v-15.66h-3zM920.97 1284.4h3v-93.96h-3zM924.21 1284.4h3v-93.96h-3zM927.46 1284.4h3v-15.66h-3zM930.7 1284.4h3v-62.64h-3zM933.95 1284.4h3v-125.28h-3zM937.19 1284.4h3v-93.96h-3zM940.44 1284.4h3v-93.96h-3zM943.68 1284.4h3v-93.96h-3zM946.93 1284.4h3v-125.28h-3zM950.17 1284.4h3v-62.64h-3zM953.42 1284.4h3v-93.96h-3zM956.66 1284.4h3v-234.9h-3zM959.91 1284.4h3v-156.6h-3zM963.15 1284.4h3v-125.28h-3zM966.4 1284.4h3v-203.58h-3zM969.64 1284.4h3v-172.26h-3zM972.89 1284.4h3v-78.3h-3zM976.13 1284.4h3v-313.2h-3zM979.38 1284.4h3v-156.6h-3zM982.62 1284.4h3v-219.24h-3zM985.87 1284.4h3v-93.96h-3zM989.11 1284.4h3v-203.58h-3zM992.36 1284.4h3v-93.96h-3zM995.6 1284.4h3v-219.24h-3zM998.85 1284.4h3v-219.24h-3zM1002.09 1284.4h3v-156.6h-3zM1005.34 1284.4h3v-203.58h-3zM1008.58 1284.4h3v-156.6h-3zM1011.83 1284.4h3v-203.58h-3zM1015.07 1284.4h3v-313.2h-3zM1018.32 1284.4h3v-219.24h-3zM1021.56 1284.4h3v-203.58h-3zM1024.8 1284.4h3v-219.24h-3zM1028.05 1284.4h3v-266.22h-3zM1031.29 1284.4h3v-187.92h-3zM1034.54 1284.4h3v-125.28h-3zM1037.78 1284.4h3v-250.56h-3zM1041.03 1284.4h3v-172.26h-3zM1044.27 1284.4h3v-234.9h-3zM1047.52 1284.4h3v-344.52h-3zM1050.76 1284.4h3v-250.56h-3zM1054.01 1284.4h3v-234.9h-3zM1057.25 1284.4h3v-219.24h-3zM1060.5 1284.4h3v-219.24h-3zM1063.74 1284.4h3v-250.56h-3zM1066.99 1284.4h3v-266.22h-3zM1070.23 1284.4h3v-187.92h-3zM1073.48 1284.4h3v-219.24h-3zM1076.72 1284.4h3v-234.9h-3zM1079.97 1284.4h3v-234.9h-3zM1083.21 1284.4h3v-203.58h-3zM1086.46 1284.4h3v-125.28h-3zM1089.7 1284.4h3v-219.24h-3zM1092.95 1284.4h3v-156.6h-3zM1096.19 1284.4h3v-187.92h-3zM1099.44 1284.4h3v-234.9h-3zM1102.68 1284.4h3v-140.94h-3zM1105.93 1284.4h3v-78.3h-3zM1109.17 1284.4h3v-172.26h-3zM1112.42 1284.4h3v-78.3h-3zM1115.66 1284.4h3v-31.32h-3zM1118.91 1284.4h3v-109.62h-3zM1122.15 1284.4h3v-46.98h-3zM1125.4 1284.4h3v-93.96h-3zM1128.64 1284.4h3v-46.98h-3zM1131.89 1284.4h3v-109.62h-3zM1135.13 1284.4h3v-15.66h-3zM1138.38 1284.4h3v-78.3h-3zM1141.62 1284.4h3v-31.32h-3zM1144.87 1284.4h3v-15.66h-3zM1148.12 1284.4h3v-78.3h-3zM1151.36 1284.4h3v-31.32h-3zM1157.85 1284.4h3v-31.32h-3zM1161.1 1284.4h3v-31.32h-3zM1167.59 1284.4h3v-15.66h-3zM1170.83 1284.4h3v-15.66h-3zM1174.07 1284.4h3v-15.66h-3z" stroke="none" stroke-width="1" fill="#aec4de"/>
<path d="M817 1284.3C818.5 1284.18 823.17 1284.02 826 1283.6C828.83 1283.18 831.67 1282.4 834 1281.8C836.33 1281.2 836.88 1281.43 840 1280C843.12 1278.58 848.47 1275.63 852.71 1273.23C856.94 1270.83 862.16 1267.72 865.41 1265.6C868.66 1263.49 869.37 1262.36 872.19 1260.52C875.01 1258.69 878.68 1256.43 882.35 1254.59C886.02 1252.76 890.54 1251.35 894.21 1249.51C897.88 1247.67 901.27 1245.84 904.38 1243.58C907.48 1241.32 910.31 1238.78 912.85 1235.96C915.39 1233.13 917.37 1230.45 919.62 1226.64C921.88 1222.83 924.14 1217.89 926.4 1213.09C928.66 1208.29 930.64 1203.2 933.18 1197.84C935.72 1192.47 938.82 1186.83 941.65 1180.9C944.47 1174.97 946.83 1169.08 950.12 1162.26C953.41 1155.45 958.24 1145.83 961.39 1140C964.53 1134.17 966.45 1130.99 968.98 1127.29C971.51 1123.59 974.04 1120.65 976.57 1117.8C979.1 1114.95 981.63 1112.58 984.16 1110.21C986.69 1107.84 989.22 1105.94 991.75 1103.57C994.28 1101.2 996.81 1098.67 999.34 1095.98C1001.87 1093.29 1004.4 1090.36 1006.93 1087.44C1009.46 1084.51 1011.99 1081.27 1014.52 1078.43C1017.05 1075.58 1019.58 1072.65 1022.11 1070.36C1024.64 1068.07 1027.17 1066.41 1029.7 1064.67C1032.23 1062.93 1034.76 1061.35 1037.29 1059.92C1039.82 1058.5 1042.66 1057.03 1044.88 1056.13C1047.09 1055.23 1048.83 1054.83 1050.57 1054.52C1052.31 1054.2 1053.73 1054.12 1055.31 1054.23C1056.89 1054.34 1058.32 1054.47 1060.06 1055.18C1061.8 1055.89 1063.85 1057.08 1065.75 1058.5C1067.65 1059.92 1069.54 1061.58 1071.44 1063.72C1073.34 1065.85 1075.24 1068.46 1077.13 1071.31C1079.03 1074.16 1080.93 1077.32 1082.83 1080.8C1084.72 1084.28 1086.62 1087.91 1088.52 1092.18C1090.42 1096.45 1092.31 1101.2 1094.21 1106.41C1096.11 1111.63 1098.01 1117.89 1099.91 1123.49C1101.8 1129.09 1103.06 1131.56 1105.6 1140C1108.13 1148.44 1112.4 1165.05 1115.12 1174.12C1117.84 1183.2 1119.64 1187.96 1121.9 1194.45C1124.15 1200.94 1126.41 1207.44 1128.67 1213.09C1130.93 1218.73 1133.19 1223.67 1135.45 1228.33C1137.71 1232.99 1139.97 1237.23 1142.23 1241.04C1144.48 1244.85 1146.74 1248.1 1149 1251.2C1151.26 1254.31 1153.52 1257.13 1155.78 1259.68C1158.04 1262.22 1160.3 1264.33 1162.56 1266.45C1164.81 1268.57 1167.07 1270.69 1169.33 1272.38C1171.59 1274.08 1173.51 1275.2 1176.11 1276.62C1178.71 1278.03 1182.27 1279.85 1184.92 1280.85C1187.57 1281.85 1189.65 1282.13 1192 1282.6C1194.35 1283.07 1196.67 1283.42 1199 1283.7C1201.33 1283.98 1204.83 1284.2 1206 1284.3" stroke="#3d668f" stroke-width="1.2" fill="none"/>
<rect x="781.3" y="921.6" width="465.7" height="362.8" fill="none" stroke="#2a2a2a" stroke-width="1.25"/>
<path d="M787.4 1284.4v4.8M872.8 1284.4v4.8M958.2 1284.4v4.8M1043.6 1284.4v4.8M1129 1284.4v4.8M1214.4 1284.4v4.8M781.3 1284.4h-4.8M781.3 1238.73h-4.8M781.3 1193.05h-4.8M781.3 1147.38h-4.8M781.3 1101.7h-4.8M781.3 1056.03h-4.8M781.3 1010.35h-4.8M781.3 964.68h-4.8" stroke="#2a2a2a" stroke-width="1.25" fill="none"/>
<text transform="translate(773 1291.6)" font-size="20.3" text-anchor="end">0</text>
<text transform="translate(773 1245.93)" font-size="20.3" text-anchor="end">50</text>
<text transform="translate(773 1200.25)" font-size="20.3" text-anchor="end">100</text>
<text transform="translate(773 1154.58)" font-size="20.3" text-anchor="end">150</text>
<text transform="translate(773 1108.9)" font-size="20.3" text-anchor="end">200</text>
<text transform="translate(773 1063.23)" font-size="20.3" text-anchor="end">250</text>
<text transform="translate(773 1017.55)" font-size="20.3" text-anchor="end">300</text>
<text transform="translate(773 971.88)" font-size="20.3" text-anchor="end">350</text>
<text transform="translate(792.6 1310.9)" font-size="20.3" text-anchor="middle">-0.004</text>
<text transform="translate(872.5 1310.9)" font-size="20.3" text-anchor="middle">-0.002</text>
<text transform="translate(957.8 1310.9)" font-size="20.3" text-anchor="middle">0.000</text>
<text transform="translate(1043.2 1310.9)" font-size="20.3" text-anchor="middle">0.002</text>
<text transform="translate(1128.6 1310.9)" font-size="20.3" text-anchor="middle">0.004</text>
<text transform="translate(1214 1310.9)" font-size="20.3" text-anchor="middle">0.006</text>
<text transform="translate(1237.6 944.2) scale(0.877 1)" font-size="21.2" text-anchor="end">[-0.0025, 0.0051]</text>
<text transform="translate(1237.2 969.4) scale(0.896 1)" font-size="20.7" text-anchor="end">Mean: 0.0016</text>
<text transform="translate(1013.2 1340.5) scale(0.993 1)" font-size="23.6" text-anchor="middle">Systematic differences (d(M1, M2) - d(A, M2))</text>
<text transform="translate(1016.6 1370) scale(0.978 1)" font-size="23.6" text-anchor="middle">(substitutions/site)</text>
<text transform="translate(729.5 1107.3) rotate(-90)" font-size="26.2" text-anchor="middle">Count</text>
<text transform="translate(706.5 922.6)" font-size="34" font-weight="bold">c</text>
<path d="M1421.72 1284.4h3.62v-6.86h-3.62zM1425.58 1284.4h3.62v-10.35h-3.62zM1429.45 1284.4h3.62v-14.04h-3.62zM1433.31 1284.4h3.62v-18h-3.62zM1437.18 1284.4h3.62v-22.04h-3.62zM1441.04 1284.4h3.62v-29.83h-3.62zM1444.91 1284.4h3.62v-37.35h-3.62zM1448.77 1284.4h3.62v-47.45h-3.62zM1452.64 1284.4h3.62v-53.85h-3.62zM1456.5 1284.4h3.62v-64.91h-3.62zM1460.37 1284.4h3.62v-80.56h-3.62zM1464.23 1284.4h3.62v-91.79h-3.62zM1468.1 1284.4h3.62v-108.84h-3.62zM1471.96 1284.4h3.62v-123.1h-3.62zM1475.83 1284.4h3.62v-137.16h-3.62zM1479.69 1284.4h3.62v-154.71h-3.62zM1483.56 1284.4h3.62v-186.89h-3.62zM1487.42 1284.4h3.62v-190.5h-3.62zM1491.29 1284.4h3.62v-203.89h-3.62zM1495.15 1284.4h3.62v-216.7h-3.62zM1499.02 1284.4h3.62v-239h-3.62zM1502.88 1284.4h3.62v-251.59h-3.62zM1506.75 1284.4h3.62v-259.52h-3.62zM1510.61 1284.4h3.62v-270.28h-3.62zM1514.48 1284.4h3.62v-264.45h-3.62zM1518.34 1284.4h3.62v-291.23h-3.62zM1522.21 1284.4h3.62v-310.19h-3.62zM1526.07 1284.4h3.62v-276.3h-3.62zM1529.94 1284.4h3.62v-288.26h-3.62zM1533.8 1284.4h3.62v-315.38h-3.62zM1537.67 1284.4h3.62v-301.13h-3.62zM1541.53 1284.4h3.62v-345.43h-3.62zM1545.4 1284.4h3.62v-305.44h-3.62zM1549.26 1284.4h3.62v-317.73h-3.62zM1553.13 1284.4h3.62v-323.74h-3.62zM1556.99 1284.4h3.62v-312.13h-3.62zM1560.86 1284.4h3.62v-284.78h-3.62zM1564.72 1284.4h3.62v-289.86h-3.62zM1568.59 1284.4h3.62v-296.63h-3.62zM1572.45 1284.4h3.62v-329.67h-3.62zM1576.32 1284.4h3.62v-298.06h-3.62zM1580.18 1284.4h3.62v-320.01h-3.62zM1584.05 1284.4h3.62v-267.83h-3.62zM1587.91 1284.4h3.62v-267.83h-3.62zM1591.78 1284.4h3.62v-250.89h-3.62zM1595.64 1284.4h3.62v-248.14h-3.62zM1599.51 1284.4h3.62v-248.61h-3.62zM1603.37 1284.4h3.62v-228.7h-3.62zM1607.24 1284.4h3.62v-200.92h-3.62zM1611.1 1284.4h3.62v-210.17h-3.62zM1614.97 1284.4h3.62v-208.94h-3.62zM1618.83 1284.4h3.62v-196.88h-3.62zM1622.7 1284.4h3.62v-193.81h-3.62zM1626.56 1284.4h3.62v-176.34h-3.62zM1630.43 1284.4h3.62v-174.22h-3.62zM1634.29 1284.4h3.62v-154.41h-3.62zM1638.16 1284.4h3.62v-146.07h-3.62zM1642.02 1284.4h3.62v-130.75h-3.62zM1645.89 1284.4h3.62v-116.92h-3.62zM1649.75 1284.4h3.62v-102.55h-3.62zM1653.62 1284.4h3.62v-97.65h-3.62zM1657.48 1284.4h3.62v-88.12h-3.62zM1661.35 1284.4h3.62v-83.93h-3.62zM1665.21 1284.4h3.62v-72.65h-3.62zM1669.08 1284.4h3.62v-67.72h-3.62zM1672.94 1284.4h3.62v-60.77h-3.62zM1676.81 1284.4h3.62v-53.57h-3.62zM1680.67 1284.4h3.62v-45.89h-3.62zM1684.54 1284.4h3.62v-38.15h-3.62zM1688.4 1284.4h3.62v-31.6h-3.62zM1692.27 1284.4h3.62v-26.1h-3.62zM1696.13 1284.4h3.62v-22.76h-3.62zM1700 1284.4h3.62v-19.75h-3.62zM1703.86 1284.4h3.62v-16.75h-3.62zM1707.73 1284.4h3.62v-13.79h-3.62zM1711.59 1284.4h3.62v-11.35h-3.62zM1715.46 1284.4h3.62v-9.77h-3.62zM1719.32 1284.4h3.62v-8.35h-3.62zM1723.19 1284.4h3.62v-7.05h-3.62zM1727.05 1284.4h3.62v-6.03h-3.62zM1730.92 1284.4h3.62v-5.41h-3.62zM1734.78 1284.4h3.62v-4.29h-3.62zM1738.65 1284.4h3.62v-3.47h-3.62zM1742.51 1284.4h3.62v-3h-3.62zM1746.38 1284.4h3.62v-2.3h-3.62zM1750.24 1284.4h3.62v-1.97h-3.62zM1754.11 1284.4h3.62v-1.45h-3.62zM1757.97 1284.4h3.62v-0.72h-3.62zM1761.84 1284.4h3.62v-0.6h-3.62zM1765.7 1284.4h3.62v-0.6h-3.62zM1769.57 1284.4h3.62v-0.6h-3.62zM1773.43 1284.4h3.62v-0.6h-3.62zM1777.3 1284.4h3.62v-0.6h-3.62zM1781.16 1284.4h3.62v-0.6h-3.62zM1785.03 1284.4h3.62v-0.6h-3.62zM1788.89 1284.4h3.62v-0.6h-3.62zM1792.76 1284.4h3.62v-0.6h-3.62zM1796.62 1284.4h3.62v-0.6h-3.62zM1800.49 1284.4h3.62v-0.6h-3.62zM1804.35 1284.4h3.62v-0.6h-3.62z" stroke="none" stroke-width="1" fill="#aec4de"/>
<path d="M1396 1284.3C1397.51 1284.23 1402.16 1284.33 1405.08 1283.9C1408.01 1283.47 1410.73 1282.77 1413.55 1281.7C1416.38 1280.63 1419.2 1279.3 1422.02 1277.46C1424.85 1275.63 1427.67 1273.51 1430.49 1270.69C1433.32 1267.86 1436.14 1264.76 1438.97 1260.52C1441.79 1256.29 1444.89 1250.64 1447.44 1245.27C1449.98 1239.91 1451.95 1234.55 1454.21 1228.33C1456.47 1222.12 1458.73 1214.78 1460.99 1208C1463.25 1201.23 1465.51 1195.58 1467.77 1187.67C1470.02 1179.77 1472.28 1170.45 1474.54 1160.57C1476.8 1150.69 1479.06 1139.11 1481.32 1128.38C1483.58 1117.65 1485.84 1106.36 1488.1 1096.19C1490.35 1086.03 1492.61 1076.43 1494.87 1067.39C1497.13 1058.35 1499.39 1049.6 1501.65 1041.98C1503.91 1034.35 1506.17 1027.58 1508.42 1021.65C1510.68 1015.72 1512.94 1010.92 1515.2 1006.4C1517.46 1001.88 1519.72 998.21 1521.98 994.54C1524.24 990.87 1526.5 987.77 1528.75 984.38C1531.01 980.99 1533.27 977.18 1535.53 974.21C1537.79 971.25 1540.19 968.23 1542.31 966.59C1544.43 964.95 1546.26 964.3 1548.24 964.39C1550.21 964.47 1552.05 965.18 1554.17 967.1C1556.28 969.02 1558.68 973.53 1560.94 975.91C1563.2 978.28 1565.46 980.42 1567.72 981.33C1569.98 982.23 1572.52 980.96 1574.5 981.33C1576.47 981.69 1577.88 981.61 1579.58 983.53C1581.27 985.45 1582.68 988.19 1584.66 992.85C1586.64 997.51 1589.18 1005.27 1591.44 1011.48C1593.7 1017.7 1595.96 1023.91 1598.21 1030.12C1600.47 1036.33 1603.03 1043.11 1604.99 1048.75C1606.96 1054.4 1608.04 1059.06 1610 1064C1611.96 1068.94 1614.24 1073.04 1616.78 1078.4C1619.32 1083.77 1622.71 1090.4 1625.25 1096.19C1627.79 1101.98 1629.76 1106.07 1632.02 1113.13C1634.28 1120.19 1636.54 1130.64 1638.8 1138.54C1641.06 1146.45 1643.32 1153.51 1645.58 1160.57C1647.84 1167.63 1650.09 1174.97 1652.35 1180.9C1654.61 1186.83 1656.87 1191.63 1659.13 1196.14C1661.39 1200.66 1663.65 1204.05 1665.91 1208C1668.17 1211.96 1670.42 1215.91 1672.68 1219.86C1674.94 1223.82 1677.2 1227.49 1679.46 1231.72C1681.72 1235.96 1683.98 1241.32 1686.24 1245.27C1688.5 1249.23 1690.75 1252.62 1693.01 1255.44C1695.27 1258.26 1697.53 1260.1 1699.79 1262.22C1702.05 1264.33 1704.31 1266.45 1706.57 1268.15C1708.82 1269.84 1711.08 1271.25 1713.34 1272.38C1715.6 1273.51 1717.58 1274.08 1720.12 1274.92C1722.66 1275.77 1725.77 1276.76 1728.59 1277.46C1731.41 1278.17 1734.24 1278.59 1737.06 1279.16C1739.88 1279.72 1742.71 1280.43 1745.53 1280.85C1748.35 1281.28 1751.18 1281.33 1754 1281.7C1756.83 1282.07 1759.65 1282.69 1762.47 1283.05C1765.3 1283.42 1768.12 1283.7 1770.94 1283.9C1773.77 1284.1 1775.18 1284.13 1779.41 1284.24C1783.65 1284.35 1793.53 1284.52 1796.36 1284.58" stroke="#3d668f" stroke-width="1.2" fill="none"/>
<rect x="1360.1" y="921.6" width="465.4" height="362.8" fill="none" stroke="#2a2a2a" stroke-width="1.25"/>
<path d="M1406.5 1284.4v4.8M1496.15 1284.4v4.8M1585.8 1284.4v4.8M1675.45 1284.4v4.8M1765.1 1284.4v4.8M1360.1 1284.4h-4.8M1360.1 1229.56h-4.8M1360.1 1174.72h-4.8M1360.1 1119.88h-4.8M1360.1 1065.04h-4.8M1360.1 1010.2h-4.8M1360.1 955.36h-4.8" stroke="#2a2a2a" stroke-width="1.25" fill="none"/>
<text transform="translate(1352 1291.6)" font-size="20.3" text-anchor="end">0</text>
<text transform="translate(1352 1236.76)" font-size="20.3" text-anchor="end">200</text>
<text transform="translate(1352 1181.92)" font-size="20.3" text-anchor="end">400</text>
<text transform="translate(1352 1127.08)" font-size="20.3" text-anchor="end">600</text>
<text transform="translate(1352 1072.24)" font-size="20.3" text-anchor="end">800</text>
<text transform="translate(1352 1017.4)" font-size="20.3" text-anchor="end">1000</text>
<text transform="translate(1352 962.56)" font-size="20.3" text-anchor="end">1200</text>
<text transform="translate(1407 1310.9)" font-size="20.3" text-anchor="middle">0.0005</text>
<text transform="translate(1496.65 1310.9)" font-size="20.3" text-anchor="middle">0.0010</text>
<text transform="translate(1586.3 1310.9)" font-size="20.3" text-anchor="middle">0.0015</text>
<text transform="translate(1675.95 1310.9)" font-size="20.3" text-anchor="middle">0.0020</text>
<text transform="translate(1765.6 1310.9)" font-size="20.3" text-anchor="middle">0.0025</text>
<text transform="translate(1813 944.1) scale(0.819 1)" font-size="21.2" text-anchor="end">95% HPD [0.0004, 0.0025]</text>
<text transform="translate(1813 970.5) scale(0.885 1)" font-size="20.7" text-anchor="end">Mean: 0.0014</text>
<text transform="translate(1592 1339.9) scale(0.963 1)" font-size="23.4" text-anchor="middle">clock rate * inferred age of the common ancestor</text>
<text transform="translate(1595.3 1369.6) scale(0.961 1)" font-size="23.4" text-anchor="middle">of ancient strains (substitutions/site)</text>
<text transform="translate(1302.5 1107.3) rotate(-90)" font-size="26.2" text-anchor="middle">Count</text>
<text transform="translate(1272.5 921.4)" font-size="33.3" font-weight="bold">d</text>
<path d="M458.02 1789.5h3.53v-29.8h-3.53zM469.34 1789.5h3.53v-14.9h-3.53zM473.11 1789.5h3.53v-29.8h-3.53zM476.88 1789.5h3.53v-29.8h-3.53zM480.65 1789.5h3.53v-14.9h-3.53zM484.42 1789.5h3.53v-14.9h-3.53zM488.2 1789.5h3.53v-29.8h-3.53zM491.97 1789.5h3.53v-29.8h-3.53zM495.74 1789.5h3.53v-44.7h-3.53zM499.51 1789.5h3.53v-44.7h-3.53zM503.28 1789.5h3.53v-14.9h-3.53zM507.06 1789.5h3.53v-59.6h-3.53zM510.83 1789.5h3.53v-29.8h-3.53zM514.6 1789.5h3.53v-29.8h-3.53zM518.37 1789.5h3.53v-59.6h-3.53zM522.14 1789.5h3.53v-14.9h-3.53zM525.92 1789.5h3.53v-14.9h-3.53zM529.69 1789.5h3.53v-44.7h-3.53zM533.46 1789.5h3.53v-14.9h-3.53zM537.23 1789.5h3.53v-89.4h-3.53zM541 1789.5h3.53v-89.4h-3.53zM544.78 1789.5h3.53v-14.9h-3.53zM548.55 1789.5h3.53v-59.6h-3.53zM552.32 1789.5h3.53v-119.2h-3.53zM556.09 1789.5h3.53v-89.4h-3.53zM559.86 1789.5h3.53v-89.4h-3.53zM563.64 1789.5h3.53v-89.4h-3.53zM567.41 1789.5h3.53v-119.2h-3.53zM571.18 1789.5h3.53v-59.6h-3.53zM574.95 1789.5h3.53v-89.4h-3.53zM578.72 1789.5h3.53v-223.5h-3.53zM582.5 1789.5h3.53v-149h-3.53zM586.27 1789.5h3.53v-119.2h-3.53zM590.04 1789.5h3.53v-193.7h-3.53zM593.81 1789.5h3.53v-163.9h-3.53zM597.58 1789.5h3.53v-74.5h-3.53zM601.36 1789.5h3.53v-298h-3.53zM605.13 1789.5h3.53v-149h-3.53zM608.9 1789.5h3.53v-208.6h-3.53zM612.67 1789.5h3.53v-89.4h-3.53zM616.44 1789.5h3.53v-193.7h-3.53zM620.22 1789.5h3.53v-89.4h-3.53zM623.99 1789.5h3.53v-208.6h-3.53zM627.76 1789.5h3.53v-208.6h-3.53zM631.53 1789.5h3.53v-149h-3.53zM635.3 1789.5h3.53v-193.7h-3.53zM639.08 1789.5h3.53v-149h-3.53zM642.85 1789.5h3.53v-193.7h-3.53zM646.62 1789.5h3.53v-298h-3.53zM650.39 1789.5h3.53v-208.6h-3.53zM654.16 1789.5h3.53v-193.7h-3.53zM657.94 1789.5h3.53v-208.6h-3.53zM661.71 1789.5h3.53v-253.3h-3.53zM665.48 1789.5h3.53v-178.8h-3.53zM669.25 1789.5h3.53v-119.2h-3.53zM673.02 1789.5h3.53v-238.4h-3.53zM676.8 1789.5h3.53v-163.9h-3.53zM680.57 1789.5h3.53v-223.5h-3.53zM684.34 1789.5h3.53v-327.8h-3.53zM688.11 1789.5h3.53v-238.4h-3.53zM691.88 1789.5h3.53v-223.5h-3.53zM695.66 1789.5h3.53v-208.6h-3.53zM699.43 1789.5h3.53v-208.6h-3.53zM703.2 1789.5h3.53v-238.4h-3.53zM706.97 1789.5h3.53v-253.3h-3.53zM710.74 1789.5h3.53v-178.8h-3.53zM714.52 1789.5h3.53v-208.6h-3.53zM718.29 1789.5h3.53v-223.5h-3.53zM722.06 1789.5h3.53v-223.5h-3.53zM725.83 1789.5h3.53v-193.7h-3.53zM729.6 1789.5h3.53v-119.2h-3.53zM733.38 1789.5h3.53v-208.6h-3.53zM737.15 1789.5h3.53v-149h-3.53zM740.92 1789.5h3.53v-178.8h-3.53zM744.69 1789.5h3.53v-223.5h-3.53zM748.46 1789.5h3.53v-134.1h-3.53zM752.24 1789.5h3.53v-74.5h-3.53zM756.01 1789.5h3.53v-163.9h-3.53zM759.78 1789.5h3.53v-74.5h-3.53zM763.55 1789.5h3.53v-29.8h-3.53zM767.32 1789.5h3.53v-104.3h-3.53zM771.1 1789.5h3.53v-44.7h-3.53zM774.87 1789.5h3.53v-89.4h-3.53zM778.64 1789.5h3.53v-44.7h-3.53zM782.41 1789.5h3.53v-104.3h-3.53zM786.18 1789.5h3.53v-14.9h-3.53zM789.96 1789.5h3.53v-74.5h-3.53zM793.73 1789.5h3.53v-29.8h-3.53zM797.5 1789.5h3.53v-14.9h-3.53zM801.27 1789.5h3.53v-74.5h-3.53zM805.04 1789.5h3.53v-29.8h-3.53zM812.59 1789.5h3.53v-29.8h-3.53zM816.36 1789.5h3.53v-29.8h-3.53zM823.9 1789.5h3.53v-14.9h-3.53zM827.68 1789.5h3.53v-14.9h-3.53zM831.45 1789.5h3.53v-14.9h-3.53z" stroke="none" stroke-width="1" fill="#aec4de"/>
<path d="M414.59 1789.5C416.34 1789.39 421.79 1789.23 425.09 1788.83C428.4 1788.44 431.7 1787.69 434.42 1787.12C437.14 1786.55 437.79 1786.77 441.42 1785.41C445.06 1784.05 451.3 1781.25 456.24 1778.96C461.18 1776.68 467.28 1773.72 471.06 1771.71C474.85 1769.69 475.68 1768.62 478.97 1766.87C482.26 1765.12 486.54 1762.97 490.83 1761.23C495.11 1759.48 500.38 1758.14 504.66 1756.39C508.94 1754.64 512.89 1752.9 516.52 1750.75C520.14 1748.6 523.43 1746.18 526.4 1743.49C529.36 1740.8 531.67 1738.25 534.3 1734.62C536.94 1731 539.57 1726.29 542.21 1721.73C544.84 1717.16 547.15 1712.32 550.11 1707.22C553.08 1702.11 556.7 1696.73 559.99 1691.09C563.29 1685.45 566.04 1679.84 569.87 1673.36C573.71 1666.87 579.35 1657.72 583.02 1652.17C586.68 1646.62 588.92 1643.59 591.87 1640.07C594.82 1636.55 597.77 1633.75 600.72 1631.04C603.67 1628.33 606.63 1626.07 609.58 1623.82C612.53 1621.56 615.48 1619.75 618.43 1617.5C621.38 1615.24 624.33 1612.83 627.28 1610.27C630.24 1607.71 633.19 1604.93 636.14 1602.15C639.09 1599.36 642.04 1596.28 644.99 1593.57C647.94 1590.86 650.89 1588.08 653.85 1585.89C656.8 1583.71 659.75 1582.13 662.7 1580.48C665.65 1578.82 668.6 1577.32 671.55 1575.96C674.5 1574.61 677.82 1573.21 680.41 1572.35C682.99 1571.49 685.02 1571.12 687.05 1570.81C689.08 1570.51 690.74 1570.44 692.58 1570.54C694.43 1570.65 696.09 1570.77 698.11 1571.45C700.14 1572.12 702.54 1573.25 704.75 1574.61C706.97 1575.96 709.18 1577.54 711.39 1579.57C713.61 1581.6 715.82 1584.09 718.03 1586.8C720.25 1589.51 722.46 1592.52 724.68 1595.83C726.89 1599.14 729.1 1602.6 731.32 1606.66C733.53 1610.72 735.74 1615.24 737.96 1620.21C740.17 1625.17 742.38 1631.13 744.6 1636.46C746.81 1641.79 748.28 1644.14 751.24 1652.17C754.19 1660.2 759.17 1676.01 762.34 1684.64C765.51 1693.28 767.61 1697.81 770.25 1703.99C772.88 1710.17 775.52 1716.35 778.15 1721.73C780.79 1727.1 783.42 1731.8 786.06 1736.24C788.69 1740.67 791.33 1744.7 793.96 1748.33C796.6 1751.96 799.23 1755.05 801.87 1758C804.5 1760.96 807.14 1763.65 809.77 1766.06C812.41 1768.48 815.04 1770.5 817.68 1772.51C820.31 1774.53 822.95 1776.54 825.58 1778.16C828.22 1779.77 830.46 1780.84 833.49 1782.19C836.52 1783.53 840.67 1785.27 843.76 1786.22C846.85 1787.17 849.29 1787.43 852.02 1787.88C854.76 1788.33 857.47 1788.66 860.19 1788.93C862.91 1789.2 866.99 1789.4 868.35 1789.5" stroke="#3d668f" stroke-width="1.2" fill="none"/>
<rect x="375.6" y="1444.2" width="540.9" height="345.3" fill="none" stroke="#2a2a2a" stroke-width="1.25"/>
<path d="M383.26 1789.5v4.8M482.13 1789.5v4.8M581 1789.5v4.8M679.87 1789.5v4.8M778.74 1789.5v4.8M877.61 1789.5v4.8M375.6 1789.5h-4.8M375.6 1745.7h-4.8M375.6 1701.9h-4.8M375.6 1658.1h-4.8M375.6 1614.3h-4.8M375.6 1570.5h-4.8M375.6 1526.7h-4.8M375.6 1482.9h-4.8" stroke="#2a2a2a" stroke-width="1.25" fill="none"/>
<text transform="translate(367.4 1797.1)" font-size="21" text-anchor="end">0</text>
<text transform="translate(367.4 1753.3)" font-size="21" text-anchor="end">100000</text>
<text transform="translate(367.4 1709.5)" font-size="21" text-anchor="end">200000</text>
<text transform="translate(367.4 1665.7)" font-size="21" text-anchor="end">300000</text>
<text transform="translate(367.4 1621.9)" font-size="21" text-anchor="end">400000</text>
<text transform="translate(367.4 1578.1)" font-size="21" text-anchor="end">500000</text>
<text transform="translate(367.4 1534.3)" font-size="21" text-anchor="end">600000</text>
<text transform="translate(367.4 1490.5)" font-size="21" text-anchor="end">700000</text>
<text transform="translate(380.76 1816.3)" font-size="21" text-anchor="middle">-2</text>
<text transform="translate(479.63 1816.3)" font-size="21" text-anchor="middle">-1</text>
<text transform="translate(581.5 1816.3)" font-size="21" text-anchor="middle">0</text>
<text transform="translate(680.37 1816.3)" font-size="21" text-anchor="middle">1</text>
<text transform="translate(779.24 1816.3)" font-size="21" text-anchor="middle">2</text>
<text transform="translate(878.11 1816.3)" font-size="21" text-anchor="middle">3</text>
<text transform="translate(896 1808.6)" font-size="20.2">1e-6</text>
<text transform="translate(909 1467) scale(0.916 1)" font-size="20.2" text-anchor="end">[-1.2463e-6, 2.5688e-6]</text>
<text transform="translate(909 1492) scale(0.907 1)" font-size="20.2" text-anchor="end">Mean: 8.1273e-7</text>
<text transform="translate(651 1845) scale(0.983 1)" font-size="23.4" text-anchor="middle">Time-resolved systematic differences (substitutions/site/year)</text>
<text transform="translate(278.5 1610.5) rotate(-90)" font-size="26.2" text-anchor="middle">Count</text>
<text transform="translate(246 1448.3)" font-size="34" font-weight="bold">e</text>
<path d="M1122.52 1789.5h4.2v-6.52h-4.2zM1126.96 1789.5h4.2v-9.84h-4.2zM1131.41 1789.5h4.2v-13.34h-4.2zM1135.85 1789.5h4.2v-17.1h-4.2zM1140.3 1789.5h4.2v-20.94h-4.2zM1144.74 1789.5h4.2v-28.34h-4.2zM1149.19 1789.5h4.2v-35.49h-4.2zM1153.63 1789.5h4.2v-45.09h-4.2zM1158.08 1789.5h4.2v-51.18h-4.2zM1162.52 1789.5h4.2v-61.68h-4.2zM1166.97 1789.5h4.2v-76.55h-4.2zM1171.41 1789.5h4.2v-87.23h-4.2zM1175.86 1789.5h4.2v-103.43h-4.2zM1180.3 1789.5h4.2v-116.98h-4.2zM1184.75 1789.5h4.2v-130.35h-4.2zM1189.19 1789.5h4.2v-147.02h-4.2zM1193.64 1789.5h4.2v-177.6h-4.2zM1198.08 1789.5h4.2v-181.03h-4.2zM1202.53 1789.5h4.2v-193.75h-4.2zM1206.97 1789.5h4.2v-205.93h-4.2zM1211.41 1789.5h4.2v-227.12h-4.2zM1215.86 1789.5h4.2v-239.09h-4.2zM1220.3 1789.5h4.2v-246.62h-4.2zM1224.75 1789.5h4.2v-256.85h-4.2zM1229.19 1789.5h4.2v-251.3h-4.2zM1233.64 1789.5h4.2v-276.76h-4.2zM1238.08 1789.5h4.2v-294.77h-4.2zM1242.53 1789.5h4.2v-262.57h-4.2zM1246.97 1789.5h4.2v-273.93h-4.2zM1251.42 1789.5h4.2v-299.71h-4.2zM1255.86 1789.5h4.2v-286.16h-4.2zM1260.31 1789.5h4.2v-328.26h-4.2zM1264.75 1789.5h4.2v-290.26h-4.2zM1269.2 1789.5h4.2v-301.94h-4.2zM1273.64 1789.5h4.2v-307.65h-4.2zM1278.09 1789.5h4.2v-296.62h-4.2zM1282.53 1789.5h4.2v-270.62h-4.2zM1286.98 1789.5h4.2v-275.45h-4.2zM1291.42 1789.5h4.2v-281.89h-4.2zM1295.87 1789.5h4.2v-313.29h-4.2zM1300.31 1789.5h4.2v-283.25h-4.2zM1304.75 1789.5h4.2v-304.11h-4.2zM1309.2 1789.5h4.2v-254.52h-4.2zM1313.64 1789.5h4.2v-254.52h-4.2zM1318.09 1789.5h4.2v-238.42h-4.2zM1322.53 1789.5h4.2v-235.81h-4.2zM1326.98 1789.5h4.2v-236.26h-4.2zM1331.42 1789.5h4.2v-217.34h-4.2zM1335.87 1789.5h4.2v-190.93h-4.2zM1340.31 1789.5h4.2v-199.72h-4.2zM1344.76 1789.5h4.2v-198.56h-4.2zM1349.2 1789.5h4.2v-187.1h-4.2zM1353.65 1789.5h4.2v-184.18h-4.2zM1358.09 1789.5h4.2v-167.58h-4.2zM1362.54 1789.5h4.2v-165.56h-4.2zM1366.98 1789.5h4.2v-146.74h-4.2zM1371.43 1789.5h4.2v-138.81h-4.2zM1375.87 1789.5h4.2v-124.25h-4.2zM1380.32 1789.5h4.2v-111.11h-4.2zM1384.76 1789.5h4.2v-97.45h-4.2zM1389.2 1789.5h4.2v-92.8h-4.2zM1393.65 1789.5h4.2v-83.74h-4.2zM1398.09 1789.5h4.2v-79.76h-4.2zM1402.54 1789.5h4.2v-69.04h-4.2zM1406.98 1789.5h4.2v-64.36h-4.2zM1411.43 1789.5h4.2v-57.75h-4.2zM1415.87 1789.5h4.2v-50.91h-4.2zM1420.32 1789.5h4.2v-43.61h-4.2zM1424.76 1789.5h4.2v-36.25h-4.2zM1429.21 1789.5h4.2v-30.03h-4.2zM1433.65 1789.5h4.2v-24.8h-4.2zM1438.1 1789.5h4.2v-21.63h-4.2zM1442.54 1789.5h4.2v-18.77h-4.2zM1446.99 1789.5h4.2v-15.92h-4.2zM1451.43 1789.5h4.2v-13.1h-4.2zM1455.88 1789.5h4.2v-10.78h-4.2zM1460.32 1789.5h4.2v-9.29h-4.2zM1464.77 1789.5h4.2v-7.94h-4.2zM1469.21 1789.5h4.2v-6.7h-4.2zM1473.66 1789.5h4.2v-5.73h-4.2zM1478.1 1789.5h4.2v-5.14h-4.2zM1482.54 1789.5h4.2v-4.07h-4.2zM1486.99 1789.5h4.2v-3.3h-4.2zM1491.43 1789.5h4.2v-2.85h-4.2zM1495.88 1789.5h4.2v-2.19h-4.2zM1500.32 1789.5h4.2v-1.88h-4.2zM1504.77 1789.5h4.2v-1.38h-4.2zM1509.21 1789.5h4.2v-0.68h-4.2zM1513.66 1789.5h4.2v-0.57h-4.2zM1518.1 1789.5h4.2v-0.57h-4.2zM1522.55 1789.5h4.2v-0.57h-4.2zM1526.99 1789.5h4.2v-0.57h-4.2zM1531.44 1789.5h4.2v-0.57h-4.2zM1535.88 1789.5h4.2v-0.57h-4.2zM1540.33 1789.5h4.2v-0.57h-4.2zM1544.77 1789.5h4.2v-0.57h-4.2zM1549.22 1789.5h4.2v-0.57h-4.2zM1553.66 1789.5h4.2v-0.57h-4.2zM1558.11 1789.5h4.2v-0.57h-4.2zM1562.55 1789.5h4.2v-0.57h-4.2z" stroke="none" stroke-width="1" fill="#aec4de"/>
<path d="M1094.16 1789.5C1095.9 1789.44 1101.24 1789.53 1104.6 1789.12C1107.97 1788.71 1111.1 1788.05 1114.35 1787.03C1117.59 1786.01 1120.84 1784.75 1124.09 1783C1127.33 1781.26 1130.58 1779.25 1133.83 1776.56C1137.08 1773.88 1140.32 1770.93 1143.57 1766.9C1146.82 1762.88 1150.39 1757.51 1153.31 1752.41C1156.23 1747.32 1158.51 1742.22 1161.1 1736.32C1163.7 1730.41 1166.3 1723.44 1168.9 1717C1171.5 1710.56 1174.09 1705.19 1176.69 1697.68C1179.29 1690.16 1181.89 1681.31 1184.48 1671.92C1187.08 1662.53 1189.68 1651.52 1192.28 1641.33C1194.87 1631.13 1197.47 1620.4 1200.07 1610.74C1202.67 1601.08 1205.26 1591.96 1207.86 1583.37C1210.46 1574.78 1213.06 1566.47 1215.66 1559.22C1218.25 1551.98 1220.85 1545.54 1223.45 1539.9C1226.05 1534.27 1228.64 1529.71 1231.24 1525.41C1233.84 1521.12 1236.44 1517.63 1239.03 1514.14C1241.63 1510.65 1244.23 1507.7 1246.83 1504.48C1249.43 1501.26 1252.02 1497.64 1254.62 1494.82C1257.22 1492.01 1259.98 1489.14 1262.41 1487.58C1264.85 1486.02 1266.96 1485.41 1269.23 1485.49C1271.51 1485.57 1273.62 1486.24 1276.05 1488.06C1278.49 1489.89 1281.25 1494.18 1283.84 1496.43C1286.44 1498.69 1289.04 1500.73 1291.64 1501.59C1294.24 1502.44 1297.16 1501.24 1299.43 1501.59C1301.7 1501.93 1303.33 1501.85 1305.28 1503.68C1307.22 1505.5 1308.85 1508.11 1311.12 1512.53C1313.39 1516.96 1316.32 1524.34 1318.91 1530.24C1321.51 1536.15 1324.11 1542.05 1326.71 1547.95C1329.3 1553.86 1332.24 1560.29 1334.5 1565.66C1336.76 1571.03 1338 1575.46 1340.26 1580.15C1342.52 1584.85 1345.13 1588.74 1348.05 1593.84C1350.98 1598.93 1354.87 1605.24 1357.79 1610.74C1360.72 1616.24 1362.99 1620.13 1365.59 1626.84C1368.19 1633.55 1370.78 1643.48 1373.38 1650.99C1375.98 1658.5 1378.58 1665.21 1381.17 1671.92C1383.77 1678.63 1386.37 1685.6 1388.97 1691.24C1391.56 1696.87 1394.16 1701.43 1396.76 1705.73C1399.36 1710.02 1401.95 1713.24 1404.55 1717C1407.15 1720.75 1409.75 1724.51 1412.35 1728.27C1414.94 1732.02 1417.54 1735.51 1420.14 1739.53C1422.74 1743.56 1425.33 1748.66 1427.93 1752.41C1430.53 1756.17 1433.13 1759.39 1435.72 1762.07C1438.32 1764.76 1440.92 1766.5 1443.52 1768.51C1446.12 1770.53 1448.71 1772.54 1451.31 1774.15C1453.91 1775.76 1456.51 1777.1 1459.1 1778.17C1461.7 1779.25 1463.97 1779.78 1466.9 1780.59C1469.82 1781.39 1473.39 1782.33 1476.64 1783C1479.89 1783.67 1483.13 1784.08 1486.38 1784.61C1489.63 1785.15 1492.87 1785.82 1496.12 1786.22C1499.37 1786.63 1502.62 1786.68 1505.86 1787.03C1509.11 1787.38 1512.36 1787.97 1515.6 1788.32C1518.85 1788.66 1522.1 1788.93 1525.34 1789.12C1528.59 1789.31 1530.22 1789.34 1535.09 1789.44C1539.96 1789.55 1551.32 1789.71 1554.57 1789.77" stroke="#3d668f" stroke-width="1.2" fill="none"/>
<rect x="1049.6" y="1444.2" width="540.8" height="345.3" fill="none" stroke="#2a2a2a" stroke-width="1.25"/>
<path d="M1090.8 1789.5v4.8M1182.1 1789.5v4.8M1273.4 1789.5v4.8M1364.7 1789.5v4.8M1456 1789.5v4.8M1547.3 1789.5v4.8M1049.6 1789.5h-4.8M1049.6 1730.1h-4.8M1049.6 1670.7h-4.8M1049.6 1611.3h-4.8M1049.6 1551.9h-4.8M1049.6 1492.5h-4.8" stroke="#2a2a2a" stroke-width="1.25" fill="none"/>
<text transform="translate(1041 1796.9)" font-size="21" text-anchor="end">0</text>
<text transform="translate(1041 1737.5)" font-size="21" text-anchor="end">0.5</text>
<text transform="translate(1041 1678.1)" font-size="21" text-anchor="end">1.0</text>
<text transform="translate(1041 1618.7)" font-size="21" text-anchor="end">1.5</text>
<text transform="translate(1041 1559.3)" font-size="21" text-anchor="end">2.0</text>
<text transform="translate(1041 1499.9)" font-size="21" text-anchor="end">2.5</text>
<text transform="translate(1091.3 1816.3)" font-size="21" text-anchor="middle">0.2</text>
<text transform="translate(1182.6 1816.3)" font-size="21" text-anchor="middle">0.4</text>
<text transform="translate(1273.9 1816.3)" font-size="21" text-anchor="middle">0.6</text>
<text transform="translate(1365.2 1816.3)" font-size="21" text-anchor="middle">0.8</text>
<text transform="translate(1456.5 1816.3)" font-size="21" text-anchor="middle">1.0</text>
<text transform="translate(1547.8 1816.3)" font-size="21" text-anchor="middle">1.2</text>
<text transform="translate(1047.4 1439.8)" font-size="21">1e6</text>
<text transform="translate(1569.8 1808.3)" font-size="21">1e-6</text>
<text transform="translate(1583.9 1467) scale(0.902 1)" font-size="20.2" text-anchor="end">95%HPD [2.5308e-7, 6.5164e-7]</text>
<text transform="translate(1582.6 1492) scale(0.910 1)" font-size="20.2" text-anchor="end">Mean: 4.5134e-7</text>
<text transform="translate(1308 1845) scale(1.036 1)" font-size="23.4" text-anchor="middle">Clock rate (substitutions/site/year)</text>
<text transform="translate(995.3 1610.5) rotate(-90)" font-size="26.2" text-anchor="middle">Count</text>
<text transform="translate(962.5 1444.2)" font-size="34" font-weight="bold">f</text>
<clipPath id="clipI"><rect x="1049.2" y="1923.9" width="544.1" height="359.8"/></clipPath>
<g clip-path="url(#clipI)">
<path d="M1168 2283.7L1168 2280.61L1170 2279.55L1172 2278.16L1174 2276.03L1176 2273.9L1178 2271.21L1180 2267.67L1182 2264.13L1184 2259.49L1186 2253.95L1188 2248.41L1190 2241.27L1192 2233.43L1194 2225.59L1196 2214.85L1198 2203.6L1200 2192.12L1202 2180.44L1204 2168.63L1206 2156.4L1208 2144.17L1210 2133.36L1212 2122.62L1214 2112.07L1216 2101.62L1218 2092.23L1220 2084.43L1222 2076.83L1224 2070.99L1226 2065.15L1228 2060.85L1230 2056.93L1232 2053.73L1234 2051.27L1236 2048.8L1238 2046.36L1240 2043.94L1242 2042.24L1244 2040.85L1246 2040.88L1248 2041.67L1250 2043.58L1252 2046.4L1254 2049.5L1256 2052.87L1258 2057.05L1260 2061.31L1262 2065.99L1264 2070.89L1266 2075.78L1268 2080.64L1270 2085.49L1272 2090.39L1274 2095.29L1276 2100.05L1278 2104.75L1280 2109.43L1282 2114.07L1284 2118.77L1286 2123.67L1288 2128.57L1290 2133.43L1292 2138.29L1294 2143.14L1296 2148L1298 2153.05L1300 2158.53L1302 2164.02L1304 2169.39L1306 2174.75L1308 2180.12L1310 2185.49L1312 2190.65L1314 2195.55L1316 2200.37L1318 2204.76L1320 2209.15L1322 2213.4L1324 2217.62L1326 2221.8L1328 2225.95L1330 2230.09L1332 2232.54L1334 2234.99L1336 2237.44L1338 2239.89L1340 2242.34L1342 2244.11L1344 2245.87L1346 2247.64L1348 2249.4L1350 2251.16L1352 2252.89L1354 2254.62L1356 2256.35L1358 2258.08L1360 2259.81L1362 2261.51L1364 2263.2L1366 2264.9L1368 2266.59L1370 2268.03L1372 2269.43L1374 2270.83L1376 2272.06L1378 2272.97L1380 2273.88L1382 2274.8L1384 2275.37L1386 2275.85L1388 2276.33L1390 2276.82L1392 2277.28L1394 2277.73L1396 2278.18L1398 2278.63L1400 2279.08L1400 2283.7Z" stroke="none" stroke-width="1" fill="#e0eaf4"/>
<path d="M1088.03 2283.7v-1.99M1089.25 2283.7v-1M1089.73 2283.7v-3.13M1093.8 2283.7v-1.48M1097.35 2283.7v-4.08M1098.01 2283.7v-5.68M1098.9 2283.7v-1.85M1100.35 2283.7v-5.4M1101.1 2283.7v-3.04M1101.84 2283.7v-7.45M1103.19 2283.7v-3.52M1104.15 2283.7v-9.06M1104.87 2283.7v-2.63M1106.44 2283.7v-3.13M1107.21 2283.7v-3.41M1107.88 2283.7v-4.57M1109.35 2283.7v-4.62M1109.94 2283.7v-7.68M1111.06 2283.7v-7.69M1112.47 2283.7v-7.83M1113.17 2283.7v-6.32M1114.49 2283.7v-14.31M1114.96 2283.7v-4.71M1116.13 2283.7v-8.32M1117.31 2283.7v-6.99M1118.4 2283.7v-5.03M1119.33 2283.7v-10.62M1120.09 2283.7v-5.16M1121.33 2283.7v-7.55M1122.18 2283.7v-7.17M1123.56 2283.7v-6.05M1124.07 2283.7v-5.01M1125.38 2283.7v-4.74M1126.4 2283.7v-4.11M1127.38 2283.7v-5.8M1128.26 2283.7v-2.73M1129.38 2283.7v-5.16M1130.22 2283.7v-1.9M1131.31 2283.7v-1.62M1132.17 2283.7v-3.84M1133.2 2283.7v-3.09M1134.43 2283.7v-1.5M1135.41 2283.7v-2.12M1136.55 2283.7v-2.9M1137.42 2283.7v-1.67M1144.49 2283.7v-2.25M1146.31 2283.7v-4.25M1152.65 2283.7v-2.45M1154.39 2283.7v-5.35M1158.73 2283.7v-1.03M1160.75 2283.7v-4.11M1162.52 2283.7v-3.99M1163.33 2283.7v-1.45M1164.62 2283.7v-1.57M1165.53 2283.7v-2.01M1166.33 2283.7v-3.88M1167.6 2283.7v-5.46M1168.46 2283.7v-5.71M1169.61 2283.7v-6.24M1170.76 2283.7v-5.5M1171.38 2283.7v-8.31M1172.86 2283.7v-5.38M1173.35 2283.7v-9.16M1174.49 2283.7v-11.68M1175.85 2283.7v-11.49M1176.5 2283.7v-9.89M1177.59 2283.7v-10.31M1178.9 2283.7v-18.33M1179.83 2283.7v-18.16M1180.51 2283.7v-15.49M1181.85 2283.7v-15.74M1182.7 2283.7v-31.04M1183.64 2283.7v-22.15M1184.57 2283.7v-23.76M1185.56 2283.7v-23.5M1186.86 2283.7v-49.92M1187.52 2283.7v-47.02M1188.89 2283.7v-42.45M1189.59 2283.7v-33.7M1190.76 2283.7v-62.3M1191.58 2283.7v-52.67M1192.87 2283.7v-56.03M1193.52 2283.7v-51.67M1194.82 2283.7v-75.43M1196.05 2283.7v-69.08M1196.66 2283.7v-72.14M1197.66 2283.7v-64.24M1198.65 2283.7v-96.37M1199.59 2283.7v-100.75M1201.09 2283.7v-95.03M1201.55 2283.7v-102.95M1203.01 2283.7v-131.73M1204.07 2283.7v-145.88M1204.62 2283.7v-117.09M1205.65 2283.7v-144.21M1206.75 2283.7v-140.05M1207.72 2283.7v-137.35M1208.85 2283.7v-144.9M1210.14 2283.7v-147.75M1211.02 2283.7v-189.85M1211.79 2283.7v-228.7M1212.67 2283.7v-210.69M1213.8 2283.7v-167.2M1214.74 2283.7v-209.75M1216.03 2283.7v-203.63M1216.86 2283.7v-190.85M1218.1 2283.7v-185.09M1219.25 2283.7v-208.28M1220.24 2283.7v-250.72M1221.15 2283.7v-225.41M1222.05 2283.7v-281.63M1222.74 2283.7v-246.97M1223.96 2283.7v-256.32M1225.06 2283.7v-225.1M1225.93 2283.7v-233.74M1226.99 2283.7v-310.62M1227.77 2283.7v-234.15M1229.29 2283.7v-237.04M1230.16 2283.7v-236.5M1231.09 2283.7v-308.77M1231.97 2283.7v-275.99M1233.07 2283.7v-235.99M1234.27 2283.7v-300.35M1235.03 2283.7v-295.51M1235.98 2283.7v-283.38M1237.16 2283.7v-243.54M1238.37 2283.7v-307.51M1239.41 2283.7v-250.01M1240.28 2283.7v-348.64M1241.38 2283.7v-291.41M1242.08 2283.7v-258.87M1243.42 2283.7v-262.66M1244.28 2283.7v-294.51M1245.4 2283.7v-288.25M1246.24 2283.7v-259.82M1246.94 2283.7v-297.47M1248.34 2283.7v-293.83M1249.44 2283.7v-275.84M1250.48 2283.7v-267.42M1251.04 2283.7v-251.54M1252.34 2283.7v-256.11M1253.43 2283.7v-302.6M1254.32 2283.7v-323.2M1255.02 2283.7v-294.96M1256.05 2283.7v-247.25M1257.4 2283.7v-285.66M1258.51 2283.7v-320.21M1259.03 2283.7v-285.62M1260.4 2283.7v-240.57M1261.32 2283.7v-285.38M1262.21 2283.7v-252.23M1263.48 2283.7v-325.09M1264.31 2283.7v-275.07M1265.25 2283.7v-244.25M1266.49 2283.7v-236.86M1267.08 2283.7v-227.81M1268.09 2283.7v-234.37M1269.64 2283.7v-223.65M1270.11 2283.7v-248.17M1271.09 2283.7v-200.12M1272.39 2283.7v-211.49M1273.35 2283.7v-210.12M1274.65 2283.7v-225M1275.37 2283.7v-194.64M1276.49 2283.7v-225.4M1277.36 2283.7v-193.87M1278.34 2283.7v-273.28M1279.39 2283.7v-229.8M1280.39 2283.7v-269.05M1281.54 2283.7v-191.32M1282.18 2283.7v-185.4M1283.67 2283.7v-216.3M1284.31 2283.7v-235.73M1285.28 2283.7v-251.53M1286.39 2283.7v-192.12M1287.25 2283.7v-185.89M1288.42 2283.7v-164.48M1289.34 2283.7v-188.72M1290.64 2283.7v-188.35M1291.48 2283.7v-186.48M1292.26 2283.7v-174.47M1293.44 2283.7v-171.53M1294.62 2283.7v-151.69M1295.83 2283.7v-167.56M1296.82 2283.7v-182.51M1297.58 2283.7v-145.14M1298.59 2283.7v-154.19M1299.41 2283.7v-142.1M1300.5 2283.7v-144.69M1301.46 2283.7v-133.63M1302.79 2283.7v-169.09M1303.85 2283.7v-141.78M1304.4 2283.7v-131.77M1305.33 2283.7v-121M1306.84 2283.7v-120.44M1307.72 2283.7v-111.68M1308.39 2283.7v-112.29M1309.63 2283.7v-131.4M1310.39 2283.7v-132.16M1311.56 2283.7v-98.96M1312.92 2283.7v-97.59M1313.54 2283.7v-108.36M1314.59 2283.7v-122.55M1315.49 2283.7v-102.81M1316.75 2283.7v-98.74M1317.71 2283.7v-108.79M1318.81 2283.7v-100.87M1319.6 2283.7v-100.1M1320.82 2283.7v-84.21M1321.9 2283.7v-92.65M1322.95 2283.7v-85.44M1323.9 2283.7v-92.7M1324.53 2283.7v-73.02M1325.99 2283.7v-70.15M1327.04 2283.7v-69.3M1327.64 2283.7v-69.08M1328.56 2283.7v-60.53M1329.78 2283.7v-75.16M1330.82 2283.7v-60.95M1331.86 2283.7v-61.41M1332.84 2283.7v-70.81M1334.08 2283.7v-72.06M1334.61 2283.7v-58.43M1335.9 2283.7v-59.56M1336.71 2283.7v-57.35M1337.64 2283.7v-55.72M1338.62 2283.7v-52.79M1339.96 2283.7v-45.37M1340.65 2283.7v-56.59M1341.62 2283.7v-50.79M1342.79 2283.7v-56.71M1343.79 2283.7v-50.16M1344.87 2283.7v-42.17M1346.01 2283.7v-43.16M1347.19 2283.7v-49.62M1348.06 2283.7v-47.18M1349.08 2283.7v-39.71M1349.95 2283.7v-42.16M1351.15 2283.7v-38.74M1352.26 2283.7v-36.12M1353.07 2283.7v-44.89M1353.84 2283.7v-35.16M1355.13 2283.7v-33.69M1356.07 2283.7v-31.1M1356.75 2283.7v-38.7M1357.74 2283.7v-29.98M1358.98 2283.7v-28.26M1360.22 2283.7v-27.56M1361.11 2283.7v-35.94M1361.75 2283.7v-32.87M1362.78 2283.7v-35.41M1363.77 2283.7v-23.4M1365 2283.7v-26.45M1366.18 2283.7v-27.24M1367.02 2283.7v-23.38M1368.21 2283.7v-27.36M1369.28 2283.7v-28.6M1370.33 2283.7v-21.93M1371 2283.7v-22.25M1372.33 2283.7v-20.33M1373.05 2283.7v-18.11M1373.92 2283.7v-14.93M1375.16 2283.7v-16.08M1375.95 2283.7v-12.94M1377.31 2283.7v-14.12M1378.41 2283.7v-14.83M1379.12 2283.7v-14.48M1379.93 2283.7v-14.69M1381.25 2283.7v-14.19M1382.08 2283.7v-11.43M1383.3 2283.7v-14.71M1384.3 2283.7v-14.79M1385.19 2283.7v-10.11M1385.96 2283.7v-10.22M1386.97 2283.7v-11.2M1388.52 2283.7v-9.03M1389.36 2283.7v-8.18M1390.15 2283.7v-13.34M1390.98 2283.7v-14.32M1392.19 2283.7v-8.63M1393.25 2283.7v-9.52M1394.24 2283.7v-9.18M1395.16 2283.7v-11.95M1396.45 2283.7v-8.03M1397.55 2283.7v-9.13M1398.18 2283.7v-8.1M1399.11 2283.7v-8.28M1400.41 2283.7v-9.91M1401.23 2283.7v-7.5M1402.26 2283.7v-10.96M1403.27 2283.7v-13.1M1404.34 2283.7v-7.46M1405.63 2283.7v-5.7M1406.33 2283.7v-6.94M1407.09 2283.7v-5.73M1408.4 2283.7v-5.96M1409.3 2283.7v-6.07M1410.13 2283.7v-11.06M1411.13 2283.7v-5.95M1412.15 2283.7v-5.52M1413.32 2283.7v-13.58M1414.73 2283.7v-3.59M1415.6 2283.7v-8.47M1416.59 2283.7v-3.37M1417.67 2283.7v-4M1418.71 2283.7v-7.04M1419.33 2283.7v-5.29M1420.34 2283.7v-2.81M1421.69 2283.7v-4.2M1422.43 2283.7v-3.93M1423.66 2283.7v-7.33M1424.22 2283.7v-2.61M1425.62 2283.7v-2.67M1426.34 2283.7v-5.58M1427.64 2283.7v-4.7M1428.3 2283.7v-5.17M1429.31 2283.7v-3.64M1430.56 2283.7v-3.65M1431.61 2283.7v-4.14M1432.67 2283.7v-3.66M1433.4 2283.7v-3.37M1434.58 2283.7v-1.36M1435.38 2283.7v-2.15M1443.71 2283.7v-3.93M1446.8 2283.7v-12.8M1454.01 2283.7v-3.04M1454.99 2283.7v-1.04M1455.83 2283.7v-5.1M1457.92 2283.7v-1.19M1458.84 2283.7v-1.75M1459.55 2283.7v-2.74M1463.67 2283.7v-5.05M1469.57 2283.7v-1.62M1471.85 2283.7v-1.14M1480.81 2283.7v-3.61M1481.85 2283.7v-3.18M1484.79 2283.7v-5.62M1486.74 2283.7v-0.86M1487.92 2283.7v-7.75M1489.23 2283.7v-1.95M1490.08 2283.7v-1.83M1495.75 2283.7v-1.22M1498.35 2283.7v-3.28M1499.29 2283.7v-2.8M1508.93 2283.7v-2.34M1513.23 2283.7v-0.99M1514.32 2283.7v-10.61M1515.21 2283.7v-1.07M1517.32 2283.7v-1.48M1521.26 2283.7v-5.66M1523.34 2283.7v-7.01M1527.12 2283.7v-3.67M1529.44 2283.7v-3M1531.12 2283.7v-2.36M1533.37 2283.7v-1.81M1545.33 2283.7v-6.33M1547.38 2283.7v-3.11M1548.53 2283.7v-1.12M1549.22 2283.7v-0.85M1550.61 2283.7v-1.96M1559.61 2283.7v-2.42M1562.3 2283.7v-2.15M1566.52 2283.7v-3.42M1569.45 2283.7v-4M1574.65 2283.7v-2.14M1579.91 2283.7v-0.81M1592.51 2283.7v-6.99" stroke="#a6bbd3" stroke-width="0.9" fill="none" stroke-opacity="0.36"/>
<path d="M1086 2283.7v-1.45M1090.03 2283.7v-0.85M1094.06 2283.7v-2.39M1098.09 2283.7v-2.49M1102.12 2283.7v-2.27M1106.15 2283.7v-3.28M1110.18 2283.7v-3.67M1114.21 2283.7v-3.6M1118.24 2283.7v-3.41M1122.27 2283.7v-2.96M1126.3 2283.7v-3.06M1130.33 2283.7v-2.07M1134.36 2283.7v-1.23M1138.39 2283.7v-2.14M1142.42 2283.7v-1.99M1146.45 2283.7v-1.18M1150.48 2283.7v-0.76M1154.51 2283.7v-1.9M1158.54 2283.7v-0.94M1162.57 2283.7v-1.66M1166.6 2283.7v-3.23M1170.63 2283.7v-4.68M1174.66 2283.7v-9.05M1178.69 2283.7v-14.46M1182.72 2283.7v-20.28M1186.75 2283.7v-32.74M1190.78 2283.7v-43.96M1194.81 2283.7v-67.86M1198.84 2283.7v-86.44M1202.87 2283.7v-113.17M1206.9 2283.7v-127.04M1210.93 2283.7v-165.62M1214.96 2283.7v-169.04M1218.99 2283.7v-187.59M1223.02 2283.7v-202.22M1227.05 2283.7v-219.01M1231.08 2283.7v-252.03M1235.11 2283.7v-260.2M1239.14 2283.7v-237.22M1243.17 2283.7v-228.16M1247.2 2283.7v-267.69M1251.23 2283.7v-232.03M1255.26 2283.7v-257.72M1259.29 2283.7v-250.48M1263.32 2283.7v-229.02M1267.35 2283.7v-214.2M1271.38 2283.7v-196.84M1275.41 2283.7v-197.82M1279.44 2283.7v-198.18M1283.47 2283.7v-169.02M1287.5 2283.7v-169.28M1291.53 2283.7v-141.9M1295.56 2283.7v-152.18M1299.59 2283.7v-138.01M1303.62 2283.7v-122.11M1307.65 2283.7v-99.76M1311.68 2283.7v-100.44M1315.71 2283.7v-80.68M1319.74 2283.7v-77.49M1323.77 2283.7v-69.68M1327.8 2283.7v-64.4M1331.83 2283.7v-50.49M1335.86 2283.7v-45.45M1339.89 2283.7v-46.75M1343.92 2283.7v-40.66M1347.95 2283.7v-35.49M1351.98 2283.7v-29.98M1356.01 2283.7v-28.85M1360.04 2283.7v-25.52M1364.07 2283.7v-20.61M1368.1 2283.7v-16.75M1372.13 2283.7v-14.98M1376.16 2283.7v-14.14M1380.19 2283.7v-11.15M1384.22 2283.7v-8.74M1388.25 2283.7v-8.66M1392.28 2283.7v-6.67M1396.31 2283.7v-6.39M1400.34 2283.7v-5.58M1404.37 2283.7v-5.9M1408.4 2283.7v-4.81M1412.43 2283.7v-4.48M1416.46 2283.7v-2.88M1420.49 2283.7v-2.54M1424.52 2283.7v-2.13M1428.55 2283.7v-2.41M1432.58 2283.7v-1.79M1436.61 2283.7v-2.35M1440.64 2283.7v-1.88M1444.67 2283.7v-0.89M1448.7 2283.7v-2.06M1452.73 2283.7v-1.85M1456.76 2283.7v-2.15M1460.79 2283.7v-0.91M1464.82 2283.7v-1.91M1468.85 2283.7v-0.72M1472.88 2283.7v-1.56M1476.91 2283.7v-0.62M1480.94 2283.7v-1.65M1484.97 2283.7v-1.39" stroke="#c6d5e6" stroke-width="1.8" fill="none"/>
</g>
<path d="M1082.3 2283.6C1083.92 2283.5 1088.55 2283.33 1092 2283C1095.45 2282.67 1099.25 2282 1103 2281.6C1106.75 2281.2 1110.67 2280.57 1114.5 2280.6C1118.33 2280.63 1122.08 2281.4 1126 2281.8C1129.92 2282.2 1134 2282.73 1138 2283C1142 2283.27 1146.33 2283.42 1150 2283.4C1153.67 2283.38 1157.38 2283.17 1160 2282.9C1162.62 2282.63 1163.8 2282.5 1165.7 2281.8C1167.6 2281.1 1169.48 2280.27 1171.4 2278.7C1173.32 2277.13 1175.28 2275.17 1177.2 2272.4C1179.12 2269.63 1181 2266.5 1182.9 2262.1C1184.8 2257.7 1186.7 2252.48 1188.6 2246C1190.5 2239.52 1192.58 2231.4 1194.3 2223.2C1196.02 2215 1197.37 2205.77 1198.9 2196.8C1200.43 2187.83 1201.97 2178.75 1203.5 2169.4C1205.03 2160.05 1206.57 2149.68 1208.1 2140.7C1209.63 2131.72 1211.18 2123.7 1212.7 2115.5C1214.22 2107.3 1215.68 2098.55 1217.2 2091.5C1218.72 2084.45 1220.27 2078.53 1221.8 2073.2C1223.33 2067.87 1224.87 2063.32 1226.4 2059.5C1227.93 2055.68 1229.33 2052.97 1231 2050.3C1232.67 2047.63 1234.8 2045.5 1236.4 2043.5C1238 2041.5 1239.22 2039.65 1240.6 2038.3C1241.98 2036.95 1243.32 2035.6 1244.7 2035.4C1246.08 2035.2 1247.52 2035.83 1248.9 2037.1C1250.28 2038.37 1251.78 2041.1 1253 2043C1254.22 2044.9 1254.92 2045.95 1256.2 2048.5C1257.48 2051.05 1259.18 2054.75 1260.7 2058.3C1262.22 2061.85 1263.77 2065.98 1265.3 2069.8C1266.83 2073.62 1268.37 2077.38 1269.9 2081.2C1271.43 2085.02 1272.98 2088.98 1274.5 2092.7C1276.02 2096.42 1277.48 2099.88 1279 2103.5C1280.52 2107.12 1282.07 2110.67 1283.6 2114.4C1285.13 2118.13 1286.67 2122.08 1288.2 2125.9C1289.73 2129.72 1291.27 2133.5 1292.8 2137.3C1294.33 2141.1 1295.88 2144.7 1297.4 2148.7C1298.92 2152.7 1300.38 2157.1 1301.9 2161.3C1303.42 2165.5 1304.97 2169.7 1306.5 2173.9C1308.03 2178.1 1309.57 2182.48 1311.1 2186.5C1312.63 2190.52 1314.17 2194.37 1315.7 2198C1317.23 2201.63 1318.78 2204.97 1320.3 2208.3C1321.82 2211.63 1323.18 2214.55 1324.8 2218C1326.42 2221.45 1327.47 2225.08 1330 2229C1332.53 2232.92 1336.67 2237.92 1340 2241.5C1343.33 2245.08 1346.63 2247.5 1350 2250.5C1353.37 2253.5 1357.15 2256.83 1360.2 2259.5C1363.25 2262.17 1365.78 2264.5 1368.3 2266.5C1370.82 2268.5 1372.95 2270.12 1375.3 2271.5C1377.65 2272.88 1379.87 2273.92 1382.4 2274.8C1384.93 2275.68 1387.48 2276.08 1390.5 2276.8C1393.52 2277.52 1397.15 2278.5 1400.5 2279.1C1403.85 2279.7 1407.23 2280.02 1410.6 2280.4C1413.97 2280.78 1417.33 2281.08 1420.7 2281.4C1424.07 2281.72 1427.45 2282.03 1430.8 2282.3C1434.15 2282.57 1437.45 2282.92 1440.8 2283C1444.15 2283.08 1447.53 2282.8 1450.9 2282.8C1454.27 2282.8 1457.63 2282.9 1461 2283C1464.37 2283.1 1459.6 2283.3 1471.1 2283.4C1482.6 2283.5 1512.68 2283.57 1530 2283.6C1547.32 2283.63 1567.5 2283.6 1575 2283.6" stroke="#3b6189" stroke-width="1.15" fill="none"/>
<rect x="1049.2" y="1923.9" width="544.1" height="359.8" fill="none" stroke="#2a2a2a" stroke-width="1.25"/>
<path d="M1082.3 2283.7v4.8M1146.55 2283.7v4.8M1210.8 2283.7v4.8M1275.05 2283.7v4.8M1339.3 2283.7v4.8M1403.55 2283.7v4.8M1467.8 2283.7v4.8M1532.05 2283.7v4.8M1049.2 2283.7h-4.8M1049.2 2207.7h-4.8M1049.2 2131.7h-4.8M1049.2 2055.7h-4.8M1049.2 1979.7h-4.8" stroke="#2a2a2a" stroke-width="1.25" fill="none"/>
<text transform="translate(1040.8 2290.7)" font-size="21" text-anchor="end">0.00</text>
<text transform="translate(1040.8 2214.7)" font-size="21" text-anchor="end">0.02</text>
<text transform="translate(1040.8 2138.7)" font-size="21" text-anchor="end">0.04</text>
<text transform="translate(1040.8 2062.7)" font-size="21" text-anchor="end">0.06</text>
<text transform="translate(1040.8 1986.7)" font-size="21" text-anchor="end">0.08</text>
<text transform="translate(1082.3 2307.7)" font-size="21" text-anchor="middle">0</text>
<text transform="translate(1144.55 2307.7)" font-size="21" text-anchor="middle">10</text>
<text transform="translate(1210.8 2307.7)" font-size="21" text-anchor="middle">20</text>
<text transform="translate(1276.85 2307.7)" font-size="21" text-anchor="middle">30</text>
<text transform="translate(1339.3 2307.7)" font-size="21" text-anchor="middle">40</text>
<text transform="translate(1405.35 2307.7)" font-size="21" text-anchor="middle">50</text>
<text transform="translate(1469.6 2307.7)" font-size="21" text-anchor="middle">60</text>
<text transform="translate(1531.05 2307.7)" font-size="21" text-anchor="middle">70</text>
<text transform="translate(1580.3 1948) scale(0.982 1)" font-size="20.4" text-anchor="end">95%HPD [16.54, 40.74]</text>
<text transform="translate(1579.5 1973) scale(1.023 1)" font-size="20.4" text-anchor="end">Mean: 27.58</text>
<text transform="translate(1317.8 2343.7) scale(1.019 1)" font-size="23.6" text-anchor="middle">BEAST-based divergence dates of A &amp; M1</text>
<text transform="translate(1321.5 2371.3) scale(1.022 1)" font-size="23.6" text-anchor="middle">(thousand years ago)</text>
<text transform="translate(986.8 2108.1) rotate(-90)" font-size="26.2" text-anchor="middle">Count</text>
<text transform="translate(965.5 1924)" font-size="34" font-weight="bold">i</text>
<rect x="555.7" y="1939.4" width="3.9" height="342.2" fill="#aec4de" stroke="none" stroke-width="1"/>
<rect x="559.6" y="2279" width="4.2" height="2.6" fill="#aec4de" stroke="none" stroke-width="1"/>
<path d="M520 2281.6L548 2281.3L550.4 2281L556.3 2249.3L560.7 2010.9L565.5 2280.6L569 2281.4L880 2281.6" stroke="#3d668f" stroke-width="1.2" fill="none" stroke-linejoin="round"/>
<path d="M557.1 1941.8L577.5 1968" stroke="#000" stroke-width="1.2" fill="none"/>
<path d="M598 1995.4L612 2011.8" stroke="#000" stroke-width="1.2" fill="none"/>
<path d="M565.5 2279.6L585.7 2250.2" stroke="#000" stroke-width="1.2" fill="none"/>
<path d="M604.8 2222.5L612.9 2211.8" stroke="#000" stroke-width="1.2" fill="none"/>
<rect x="375.6" y="1922.3" width="544" height="359.3" fill="none" stroke="#2a2a2a" stroke-width="1.25"/>
<path d="M413.7 2281.6v4.8M485.9 2281.6v4.8M558.1 2281.6v4.8M630.3 2281.6v4.8M702.5 2281.6v4.8M774.7 2281.6v4.8M846.9 2281.6v4.8M919.1 2281.6v4.8M375.6 2281.9h-4.8M375.6 2234.17h-4.8M375.6 2186.44h-4.8M375.6 2138.71h-4.8M375.6 2090.98h-4.8M375.6 2043.25h-4.8M375.6 1995.52h-4.8M375.6 1947.79h-4.8" stroke="#2a2a2a" stroke-width="1.25" fill="none"/>
<text transform="translate(364.2 2289.7)" font-size="20.4" text-anchor="end">0.0000</text>
<text transform="translate(364.2 2241.97)" font-size="20.4" text-anchor="end">0.0001</text>
<text transform="translate(364.2 2194.24)" font-size="20.4" text-anchor="end">0.0002</text>
<text transform="translate(364.2 2146.51)" font-size="20.4" text-anchor="end">0.0003</text>
<text transform="translate(364.2 2098.78)" font-size="20.4" text-anchor="end">0.0004</text>
<text transform="translate(364.2 2051.05)" font-size="20.4" text-anchor="end">0.0005</text>
<text transform="translate(364.2 2003.32)" font-size="20.4" text-anchor="end">0.0006</text>
<text transform="translate(364.2 1955.59)" font-size="20.4" text-anchor="end">0.0007</text>
<text transform="translate(402.3 2307.7)" font-size="21" text-anchor="middle">-40000</text>
<text transform="translate(482.7 2307.7)" font-size="21" text-anchor="middle">-20000</text>
<text transform="translate(558.8 2307.7)" font-size="21" text-anchor="middle">0</text>
<text transform="translate(622.8 2307.7)" font-size="21" text-anchor="middle">20000</text>
<text transform="translate(698.2 2307.7)" font-size="21" text-anchor="middle">40000</text>
<text transform="translate(768.7 2307.7)" font-size="21" text-anchor="middle">60000</text>
<text transform="translate(840.5 2307.7)" font-size="21" text-anchor="middle">80000</text>
<text transform="translate(921.4 2307.7)" font-size="21" text-anchor="middle">100000</text>
<text transform="translate(909.9 1945) scale(0.942 1)" font-size="20.2" text-anchor="end">[-42,625.30, 91964.29]</text>
<text transform="translate(909.9 1974.3) scale(0.953 1)" font-size="20.2" text-anchor="end">Mean: 45.64</text>
<text transform="translate(634 2343.7) scale(1.033 1)" font-size="23.4" text-anchor="middle">Raw-sequence-based divergence dates of A &amp; M1</text>
<text transform="translate(637.5 2371.3) scale(1.036 1)" font-size="23.4" text-anchor="middle">(thousand years ago)</text>
<text transform="translate(278.5 2109) rotate(-90)" font-size="26.2" text-anchor="middle">Count</text>
<text transform="translate(246.5 1924.2)" font-size="34" font-weight="bold">g</text>
<rect x="611.5" y="2011.5" width="292" height="198" fill="#fff" stroke="none" stroke-width="1"/>
<path d="M642.95 2209.5h1.66v-29.73h-1.66zM644.91 2209.5h1.66v-64.15h-1.66zM646.87 2209.5h1.66v-92.34h-1.66zM648.83 2209.5h1.66v-111.41h-1.66zM650.79 2209.5h1.66v-133.56h-1.66zM652.75 2209.5h1.66v-160.39h-1.66zM654.71 2209.5h1.66v-189.09h-1.66zM656.67 2209.5h1.66v-173.23h-1.66zM658.63 2209.5h1.66v-174.09h-1.66zM660.59 2209.5h1.66v-167.98h-1.66zM662.55 2209.5h1.66v-153.85h-1.66zM664.51 2209.5h1.66v-140.3h-1.66zM666.47 2209.5h1.66v-124.62h-1.66zM668.43 2209.5h1.66v-128.43h-1.66zM670.39 2209.5h1.66v-130.45h-1.66zM672.35 2209.5h1.66v-107.49h-1.66zM674.31 2209.5h1.66v-87.83h-1.66zM676.27 2209.5h1.66v-73.85h-1.66zM678.23 2209.5h1.66v-63.9h-1.66zM680.19 2209.5h1.66v-58.64h-1.66zM682.15 2209.5h1.66v-59.46h-1.66zM684.11 2209.5h1.66v-61.57h-1.66zM686.07 2209.5h1.66v-57.07h-1.66zM688.03 2209.5h1.66v-51.59h-1.66zM689.99 2209.5h1.66v-50.17h-1.66zM691.95 2209.5h1.66v-51.94h-1.66zM693.91 2209.5h1.66v-51.06h-1.66zM695.87 2209.5h1.66v-52.98h-1.66zM697.83 2209.5h1.66v-50.43h-1.66zM699.79 2209.5h1.66v-45.67h-1.66zM701.75 2209.5h1.66v-39.7h-1.66zM703.71 2209.5h1.66v-33.64h-1.66zM705.67 2209.5h1.66v-30h-1.66zM707.63 2209.5h1.66v-25.98h-1.66zM709.59 2209.5h1.66v-25.27h-1.66zM711.55 2209.5h1.66v-22.52h-1.66zM713.51 2209.5h1.66v-21.09h-1.66zM715.47 2209.5h1.66v-21.4h-1.66zM717.43 2209.5h1.66v-20.07h-1.66zM719.39 2209.5h1.66v-18.9h-1.66zM721.35 2209.5h1.66v-16.12h-1.66zM723.31 2209.5h1.66v-17.6h-1.66zM725.27 2209.5h1.66v-18.26h-1.66zM727.23 2209.5h1.66v-20.15h-1.66zM729.19 2209.5h1.66v-20.58h-1.66zM731.15 2209.5h1.66v-21.65h-1.66zM733.11 2209.5h1.66v-20.64h-1.66zM735.07 2209.5h1.66v-17.63h-1.66zM737.03 2209.5h1.66v-15.18h-1.66zM738.99 2209.5h1.66v-11.96h-1.66zM740.95 2209.5h1.66v-10.91h-1.66zM742.91 2209.5h1.66v-9.34h-1.66zM744.87 2209.5h1.66v-8.53h-1.66zM746.83 2209.5h1.66v-7.62h-1.66zM748.79 2209.5h1.66v-8.06h-1.66zM750.75 2209.5h1.66v-8.95h-1.66zM752.71 2209.5h1.66v-7.34h-1.66zM754.67 2209.5h1.66v-7.42h-1.66zM756.63 2209.5h1.66v-7.89h-1.66zM758.59 2209.5h1.66v-8.97h-1.66zM760.55 2209.5h1.66v-8.87h-1.66zM762.51 2209.5h1.66v-10.32h-1.66zM764.47 2209.5h1.66v-9.08h-1.66zM766.43 2209.5h1.66v-8.89h-1.66zM768.39 2209.5h1.66v-8.11h-1.66zM770.35 2209.5h1.66v-7.68h-1.66zM772.31 2209.5h1.66v-5.13h-1.66zM774.27 2209.5h1.66v-4.15h-1.66zM776.23 2209.5h1.66v-5.99h-1.66zM778.19 2209.5h1.66v-4.17h-1.66zM780.15 2209.5h1.66v-4.99h-1.66zM782.11 2209.5h1.66v-5.49h-1.66zM784.07 2209.5h1.66v-5.03h-1.66zM786.03 2209.5h1.66v-3.91h-1.66zM787.99 2209.5h1.66v-3.76h-1.66zM789.95 2209.5h1.66v-5.84h-1.66zM791.91 2209.5h1.66v-4.57h-1.66zM793.87 2209.5h1.66v-6.04h-1.66zM795.83 2209.5h1.66v-4.52h-1.66zM797.79 2209.5h1.66v-5.8h-1.66zM799.75 2209.5h1.66v-4.97h-1.66zM801.71 2209.5h1.66v-5.22h-1.66zM803.67 2209.5h1.66v-6.85h-1.66zM805.63 2209.5h1.66v-6.73h-1.66zM807.59 2209.5h1.66v-7.32h-1.66zM809.55 2209.5h1.66v-6.9h-1.66zM811.51 2209.5h1.66v-5.38h-1.66zM813.47 2209.5h1.66v-6.49h-1.66zM815.43 2209.5h1.66v-5.83h-1.66zM817.39 2209.5h1.66v-5.06h-1.66zM819.35 2209.5h1.66v-4.31h-1.66zM821.31 2209.5h1.66v-5.4h-1.66zM823.27 2209.5h1.66v-5.79h-1.66zM825.23 2209.5h1.66v-3.94h-1.66zM827.19 2209.5h1.66v-5.39h-1.66zM829.15 2209.5h1.66v-3.96h-1.66zM831.11 2209.5h1.66v-4.23h-1.66zM833.07 2209.5h1.66v-5.6h-1.66zM835.03 2209.5h1.66v-5.53h-1.66zM836.99 2209.5h1.66v-5.6h-1.66zM838.95 2209.5h1.66v-5.57h-1.66zM840.91 2209.5h1.66v-5.94h-1.66zM842.87 2209.5h1.66v-6.29h-1.66zM844.83 2209.5h1.66v-6.41h-1.66zM846.79 2209.5h1.66v-5.9h-1.66zM848.75 2209.5h1.66v-6.79h-1.66zM850.71 2209.5h1.66v-6.65h-1.66zM852.67 2209.5h1.66v-5.63h-1.66zM854.63 2209.5h1.66v-6.46h-1.66zM856.59 2209.5h1.66v-5.98h-1.66zM858.55 2209.5h1.66v-4.03h-1.66zM860.51 2209.5h1.66v-4.79h-1.66zM862.47 2209.5h1.66v-4.38h-1.66zM864.43 2209.5h1.66v-5.32h-1.66zM866.39 2209.5h1.66v-4.01h-1.66zM868.35 2209.5h1.66v-3.13h-1.66zM870.31 2209.5h1.66v-3.94h-1.66zM872.27 2209.5h1.66v-1.97h-1.66zM874.23 2209.5h1.66v-1.39h-1.66zM876.19 2209.5h1.66v-2.12h-1.66zM878.15 2209.5h1.66v-0.3h-1.66zM880.11 2209.5h1.66v-0.3h-1.66z" stroke="none" stroke-width="1" fill="#aec4de"/>
<path d="M629.12 2209.31C629.94 2208.66 632.38 2208.01 634.01 2205.4C635.64 2202.79 637.44 2198.55 638.9 2193.66C640.37 2188.77 641.51 2183.56 642.82 2176.06C644.12 2168.56 645.43 2159.43 646.73 2148.67C648.03 2137.91 649.34 2123.24 650.64 2111.5C651.95 2099.77 653.41 2086.4 654.55 2078.25C655.7 2070.1 656.44 2066.25 657.49 2062.6C658.53 2058.95 659.67 2056.66 660.81 2056.34C661.95 2056.01 663.1 2057.64 664.33 2060.64C665.57 2063.64 666.94 2069.12 668.25 2074.33C669.55 2079.55 670.86 2086.07 672.16 2091.94C673.46 2097.81 674.77 2103.68 676.07 2109.55C677.38 2115.41 678.68 2121.94 679.98 2127.15C681.29 2132.37 682.59 2136.93 683.9 2140.85C685.2 2144.76 686.5 2148.02 687.81 2150.63C689.11 2153.23 690.42 2154.86 691.72 2156.49C693.03 2158.12 694.33 2159.1 695.63 2160.41C696.94 2161.71 698.24 2162.69 699.55 2164.32C700.85 2165.95 702.15 2168.23 703.46 2170.19C704.76 2172.14 705.9 2174.1 707.37 2176.06C708.84 2178.01 710.63 2180.13 712.26 2181.92C713.89 2183.72 715.36 2185.58 717.15 2186.82C718.94 2188.05 721.06 2188.87 723.02 2189.36C724.98 2189.85 726.93 2189.52 728.89 2189.75C730.85 2189.98 732.8 2189.91 734.76 2190.73C736.71 2191.54 738.67 2193.43 740.63 2194.64C742.58 2195.85 744.54 2197.09 746.49 2197.97C748.45 2198.85 750.41 2199.66 752.36 2199.92C754.32 2200.18 756.28 2199.66 758.23 2199.53C760.19 2199.4 762.14 2198.98 764.1 2199.14C766.06 2199.3 768.01 2199.86 769.97 2200.51C771.92 2201.16 773.88 2202.46 775.84 2203.05C777.79 2203.64 779.42 2203.9 781.71 2204.03C783.99 2204.16 786.92 2203.93 789.53 2203.83C792.14 2203.74 794.75 2203.61 797.36 2203.44C799.96 2203.28 802.57 2202.86 805.18 2202.86C807.79 2202.86 810.4 2203.18 813 2203.44C815.61 2203.7 818.22 2204.26 820.83 2204.42C823.44 2204.58 826.05 2204.58 828.65 2204.42C831.26 2204.26 833.87 2203.7 836.48 2203.44C839.09 2203.18 841.7 2202.95 844.3 2202.86C846.91 2202.76 849.52 2202.69 852.13 2202.86C854.74 2203.02 857.34 2203.41 859.95 2203.83C862.56 2204.26 865.17 2204.75 867.78 2205.4C870.39 2206.05 873.32 2207.13 875.6 2207.75C877.88 2208.37 879.51 2208.85 881.47 2209.12C883.43 2209.38 886.36 2209.28 887.34 2209.31" stroke="#3d668f" stroke-width="1.1" fill="none"/>
<g shape-rendering="crispEdges">
<rect x="611.5" y="2011.5" width="292" height="198" fill="none" stroke="#2a2a2a" stroke-width="1"/>
<path d="M624.8 2209.5v3M674.25 2209.5v3M723.7 2209.5v3M773.15 2209.5v3M822.6 2209.5v3M872.05 2209.5v3M611.5 2209.2h-3M611.5 2179.88h-3M611.5 2150.56h-3M611.5 2121.24h-3M611.5 2091.92h-3M611.5 2062.6h-3M611.5 2033.28h-3" stroke="#2a2a2a" stroke-width="1" fill="none"/>
</g>
<text x="606" y="2212.1" font-size="7.9" text-anchor="end" font-family="DejaVu Sans, sans-serif" fill="#222" style="stroke:none">0.00</text>
<text x="606" y="2182.78" font-size="7.9" text-anchor="end" font-family="DejaVu Sans, sans-serif" fill="#222" style="stroke:none">0.01</text>
<text x="606" y="2153.46" font-size="7.9" text-anchor="end" font-family="DejaVu Sans, sans-serif" fill="#222" style="stroke:none">0.02</text>
<text x="606" y="2124.14" font-size="7.9" text-anchor="end" font-family="DejaVu Sans, sans-serif" fill="#222" style="stroke:none">0.03</text>
<text x="606" y="2094.82" font-size="7.9" text-anchor="end" font-family="DejaVu Sans, sans-serif" fill="#222" style="stroke:none">0.04</text>
<text x="606" y="2065.5" font-size="7.9" text-anchor="end" font-family="DejaVu Sans, sans-serif" fill="#222" style="stroke:none">0.05</text>
<text x="606" y="2036.18" font-size="7.9" text-anchor="end" font-family="DejaVu Sans, sans-serif" fill="#222" style="stroke:none">0.06</text>
<text x="624.8" y="2221" font-size="7.9" text-anchor="middle" font-family="DejaVu Sans, sans-serif" fill="#222" style="stroke:none">0</text>
<text x="674.25" y="2221" font-size="7.9" text-anchor="middle" font-family="DejaVu Sans, sans-serif" fill="#222" style="stroke:none">20</text>
<text x="723.7" y="2221" font-size="7.9" text-anchor="middle" font-family="DejaVu Sans, sans-serif" fill="#222" style="stroke:none">40</text>
<text x="773.15" y="2221" font-size="7.9" text-anchor="middle" font-family="DejaVu Sans, sans-serif" fill="#222" style="stroke:none">60</text>
<text x="822.6" y="2221" font-size="7.9" text-anchor="middle" font-family="DejaVu Sans, sans-serif" fill="#222" style="stroke:none">80</text>
<text x="872.05" y="2221" font-size="7.9" text-anchor="middle" font-family="DejaVu Sans, sans-serif" fill="#222" style="stroke:none">100</text>
<text transform="translate(622.8 2044)" font-size="33" font-weight="bold">h</text>
<text transform="translate(733.5 2124.4) scale(0.947 1)" font-size="19.6">Mean: 26.01</text>
</svg>
</body></html>
